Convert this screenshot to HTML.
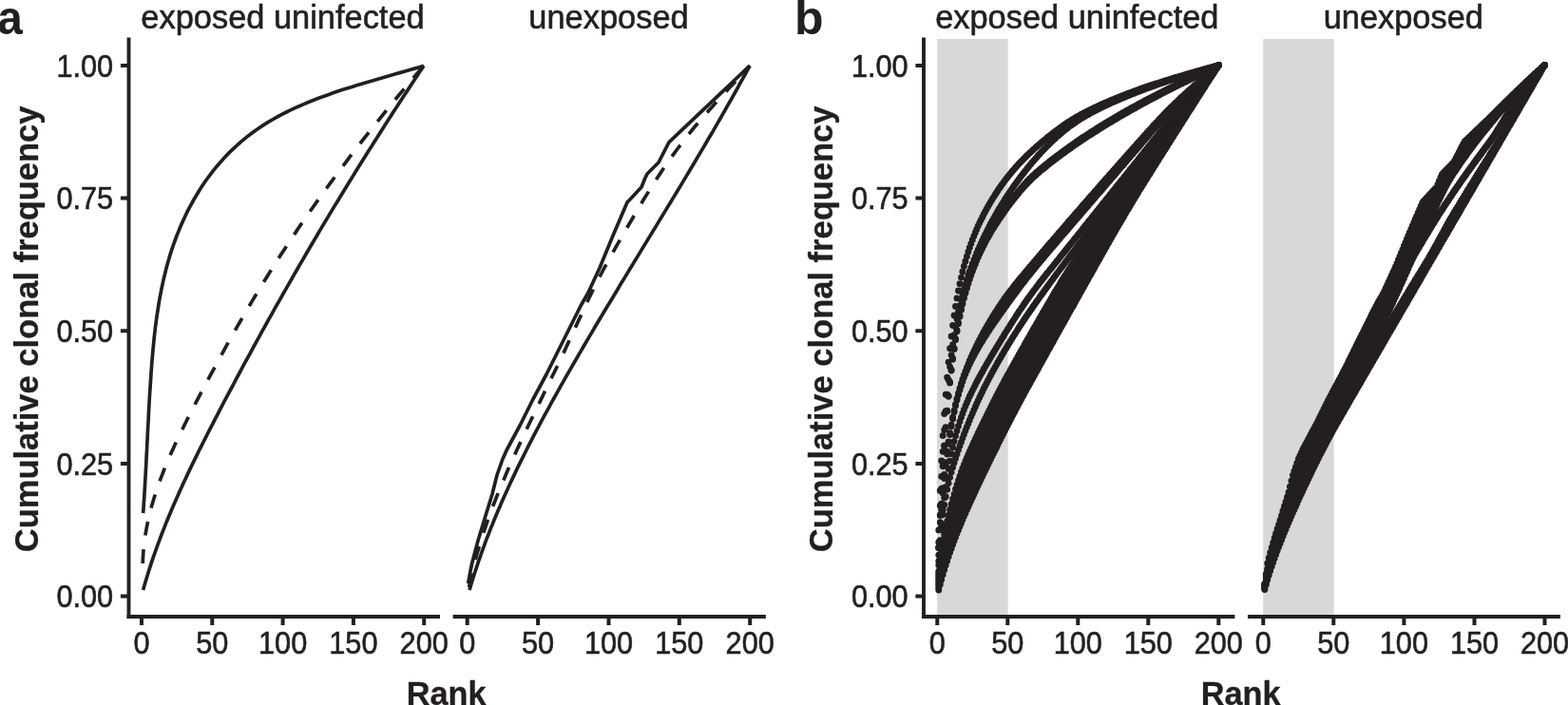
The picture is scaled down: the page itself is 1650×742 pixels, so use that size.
<!DOCTYPE html>
<html lang="en">
<head>
<meta charset="utf-8">
<title>Cumulative clonal frequency by rank</title>
<style>
html,body{margin:0;padding:0;background:#fff;}
body{width:1650px;height:742px;overflow:hidden;font-family:"Liberation Sans",sans-serif;}
svg{display:block;}
text{font-family:"Liberation Sans",sans-serif;fill:#231f20;}
.t{font-size:32.7px;stroke:#231f20;stroke-width:0.6px;}
.s{font-size:34.4px;stroke:#231f20;stroke-width:0.6px;}
.yl{font-size:35px;font-weight:bold;stroke:#231f20;stroke-width:0.3px;}
.xl{font-size:35px;font-weight:bold;stroke:#231f20;stroke-width:0.3px;}
.pl{font-size:50px;font-weight:bold;}
</style>
</head>
<body>
<svg width="1650" height="742" viewBox="0 0 1650 742">
<rect width="1650" height="742" fill="#fff"/>
<g id="panel-a">
<path d="M135.5 39.6V651" stroke="#231f20" stroke-width="3.9" fill="none"/>
<path d="M133.55 649H463.0M476.6 649H805.8" stroke="#231f20" stroke-width="4" fill="none"/>
<path d="M126.9 627.6H135.5M126.9 487.9H135.5M126.9 348.2H135.5M126.9 208.6H135.5M126.9 68.9H135.5M149 649V658M223.3 649V658M297.6 649V658M371.9 649V658M446.2 649V658M491.7 649V658M566.1 649V658M640.5 649V658M714.8 649V658M789.2 649V658" stroke="#231f20" stroke-width="4" fill="none"/>
<text transform="translate(119.2 639.4) scale(0.94 1)" text-anchor="end" class="t">0.00</text>
<text transform="translate(119.2 499.7) scale(0.94 1)" text-anchor="end" class="t">0.25</text>
<text transform="translate(119.2 360.1) scale(0.94 1)" text-anchor="end" class="t">0.50</text>
<text transform="translate(119.2 220.4) scale(0.94 1)" text-anchor="end" class="t">0.75</text>
<text transform="translate(119.2 80.7) scale(0.94 1)" text-anchor="end" class="t">1.00</text>
<text transform="translate(149 688.0) scale(0.94 1)" text-anchor="middle" class="t">0</text>
<text transform="translate(223.3 688.0) scale(0.94 1)" text-anchor="middle" class="t">50</text>
<text transform="translate(297.6 688.0) scale(0.94 1)" text-anchor="middle" class="t">100</text>
<text transform="translate(371.9 688.0) scale(0.94 1)" text-anchor="middle" class="t">150</text>
<text transform="translate(446.2 688.0) scale(0.94 1)" text-anchor="middle" class="t">200</text>
<text transform="translate(491.7 688.0) scale(0.94 1)" text-anchor="middle" class="t">0</text>
<text transform="translate(566.1 688.0) scale(0.94 1)" text-anchor="middle" class="t">50</text>
<text transform="translate(640.5 688.0) scale(0.94 1)" text-anchor="middle" class="t">100</text>
<text transform="translate(714.8 688.0) scale(0.94 1)" text-anchor="middle" class="t">150</text>
<text transform="translate(789.2 688.0) scale(0.94 1)" text-anchor="middle" class="t">200</text>
<text transform="translate(297.5 30) scale(1 1)" text-anchor="middle" class="s">exposed uninfected</text>
<text transform="translate(640.5 30) scale(1 1)" text-anchor="middle" class="s">unexposed</text>
<text transform="translate(39.9 346.4) rotate(-90) scale(0.986 1)" text-anchor="middle" class="yl">Cumulative clonal frequency</text>
<text transform="translate(469.7 741.5) scale(0.98 1)" text-anchor="middle" class="xl">Rank</text>
<text transform="translate(-2.8 35.6) scale(0.956 1)" class="pl">a</text>
<path d="M150.6 540 151 534.9 151.3 529.8 151.7 524.6 152 519.5 152.3 514.3 152.6 509.1 152.9 503.9 153.2 498.7 153.5 493.5 153.8 488.3 154 483 154.3 477.7 154.6 472.5 154.8 467.2 155.1 461.9 155.3 456.6 155.6 451.3 155.9 446 156.2 440.7 156.4 435.4 156.7 430 157 424.7 157.3 419.4 157.6 414 158 408.7 158.3 403.4 158.7 398.1 159 392.7 159.4 387.4 159.8 382.1 160.2 376.8 160.7 371.5 161.2 366.2 161.7 360.9 162.2 355.6 162.8 350.4 163.4 345.1 164.1 339.8 164.8 334.6 165.6 329.4 166.4 324.1 167.2 318.9 168.1 313.8 169.1 308.6 170.1 303.4 171.2 298.3 172.3 293.2 173.6 288.1 174.8 283 176.2 277.9 177.6 272.9 179.1 267.9 180.7 262.9 182.4 257.9 184.2 253 186 248 188 243.1 190 238.3 192.1 233.5 194.3 228.7 196.6 223.9 199 219.2 201.5 214.6 204 210 206.7 205.5 209.4 201 212.2 196.6 215.1 192.2 218.1 188 221.2 183.8 224.4 179.7 227.6 175.7 231 171.7 234.4 167.9 237.9 164.1 241.5 160.4 245.2 156.8 249 153.3 252.8 149.9 256.7 146.6 260.7 143.4 264.8 140.2 269 137.2 273.3 134.3 277.6 131.4 282 128.7 286.5 126 291.1 123.4 295.7 120.9 300.4 118.5 305.1 116.2 309.9 113.9 314.8 111.7 319.7 109.6 324.6 107.5 329.6 105.5 334.6 103.6 339.6 101.7 344.7 99.9 349.8 98.1 354.9 96.3 360 94.6 365.1 93 370.3 91.4 375.4 89.8 380.6 88.2 385.7 86.7 390.9 85.2 396 83.7 401.1 82.2 406.2 80.7 411.3 79.3 416.4 77.8 421.4 76.4 426.4 75 431.4 73.5 436.3 72.1 441.2 70.7 446 69.2" stroke="#231f20" stroke-width="3.7" fill="none" stroke-linejoin="round"/>
<path d="M150.6 621 152 616 153.5 611 155 606 156.5 601 158.1 596.1 159.7 591.1 161.4 586.1 163.2 581.2 164.9 576.3 166.7 571.3 168.6 566.4 170.4 561.5 172.4 556.6 174.3 551.7 176.3 546.8 178.3 542 180.4 537.1 182.4 532.2 184.5 527.4 186.7 522.5 188.8 517.7 191 512.9 193.2 508.1 195.5 503.2 197.7 498.4 200 493.6 202.3 488.9 204.6 484.1 207 479.3 209.3 474.5 211.7 469.8 214.1 465 216.5 460.3 218.9 455.5 221.3 450.8 223.8 446.1 226.2 441.3 228.7 436.6 231.1 431.9 233.6 427.2 236 422.5 238.5 417.8 241 413.1 243.5 408.5 246 403.8 248.4 399.1 250.9 394.5 253.4 389.8 255.9 385.2 258.4 380.5 261 375.9 263.5 371.3 266 366.6 268.5 362 271.1 357.4 273.6 352.8 276.1 348.2 278.7 343.6 281.2 339 283.8 334.4 286.4 329.8 288.9 325.2 291.5 320.6 294.1 316.1 296.7 311.5 299.3 306.9 301.9 302.4 304.5 297.8 307.1 293.3 309.7 288.7 312.3 284.2 314.9 279.6 317.6 275.1 320.2 270.6 322.8 266 325.5 261.5 328.1 257 330.8 252.5 333.5 248 336.1 243.4 338.8 238.9 341.5 234.4 344.2 229.9 346.9 225.4 349.6 220.9 352.3 216.4 355.1 211.9 357.8 207.5 360.5 203 363.3 198.5 366 194 368.8 189.5 371.5 185.1 374.3 180.6 377.1 176.1 379.9 171.6 382.6 167.2 385.4 162.7 388.2 158.2 391.1 153.8 393.9 149.3 396.7 144.9 399.5 140.4 402.4 135.9 405.2 131.5 408.1 127 411 122.6 413.8 118.1 416.7 113.7 419.6 109.2 422.5 104.8 425.4 100.3 428.3 95.9 431.3 91.4 434.2 87 437.1 82.5 440.1 78.1 443 73.6 446 69.2" stroke="#231f20" stroke-width="3.7" fill="none" stroke-linejoin="round"/>
<path d="M150.2 593 150.4 587.9 150.7 582.8 151.1 577.8 151.6 572.8 152.3 567.7 153 562.7 153.9 557.7 154.8 552.8 155.9 547.8 157 542.9 158.2 538 159.5 533 160.9 528.2 162.4 523.3 163.9 518.4 165.6 513.6 167.3 508.7 169 503.9 170.9 499.1 172.7 494.3 174.7 489.5 176.7 484.8 178.7 480 180.8 475.3 183 470.6 185.1 465.8 187.4 461.1 189.6 456.5 191.9 451.8 194.2 447.1 196.5 442.5 198.9 437.8 201.2 433.2 203.6 428.6 206 424 208.4 419.4 210.8 414.8 213.2 410.2 215.6 405.7 218.1 401.1 220.5 396.6 222.9 392.1 225.4 387.6 227.8 383 230.2 378.5 232.7 374.1 235.2 369.6 237.6 365.1 240.1 360.7 242.6 356.2 245.1 351.8 247.6 347.3 250.1 342.9 252.7 338.5 255.2 334.1 257.7 329.7 260.3 325.4 262.9 321 265.5 316.6 268.1 312.3 270.7 307.9 273.3 303.6 275.9 299.3 278.6 295 281.3 290.7 283.9 286.4 286.6 282.1 289.4 277.8 292.1 273.5 294.8 269.3 297.6 265 300.4 260.8 303.1 256.5 305.9 252.3 308.8 248.1 311.6 243.9 314.4 239.6 317.3 235.4 320.2 231.3 323.1 227.1 326 222.9 328.9 218.7 331.8 214.6 334.8 210.4 337.7 206.3 340.7 202.1 343.7 198 346.7 193.9 349.7 189.8 352.7 185.7 355.8 181.6 358.8 177.5 361.9 173.4 365 169.3 368 165.2 371.1 161.1 374.3 157.1 377.4 153 380.5 149 383.7 144.9 386.9 140.9 390.1 136.9 393.2 132.8 396.5 128.8 399.7 124.8 402.9 120.8 406.1 116.8 409.4 112.8 412.7 108.8 416 104.8 419.2 100.8 422.5 96.9 425.9 92.9 429.2 88.9 432.5 85 435.9 81 439.2 77.1 442.6 73.1 446 69.2" stroke="#231f20" stroke-width="3.7" fill="none" stroke-dasharray="14.8 14.8"/>
<path d="M492.6 614 495.2 600 496.9 592 503.3 568 510 546 518 520 523 500 528.6 484 533 474 547 448 561 420 575 394 589 366 604 336 611 322 619 308 631 282 645 248 660 213 675 197 678.6 188 681 183 693 171 704 149.6 789 69.2" stroke="#231f20" stroke-width="3.7" fill="none" stroke-linejoin="round"/>
<path d="M494 621 495.5 616 497 610.9 498.6 605.9 500.2 600.9 501.9 595.9 503.5 590.9 505.3 586 507 581 508.8 576.1 510.6 571.1 512.5 566.2 514.4 561.3 516.3 556.4 518.3 551.6 520.2 546.7 522.3 541.8 524.3 537 526.4 532.2 528.5 527.3 530.6 522.5 532.8 517.7 535 512.9 537.2 508.1 539.4 503.4 541.7 498.6 543.9 493.9 546.2 489.1 548.6 484.4 550.9 479.7 553.3 475 555.7 470.2 558.1 465.5 560.5 460.9 562.9 456.2 565.4 451.5 567.8 446.8 570.3 442.2 572.8 437.5 575.4 432.9 577.9 428.3 580.4 423.6 583 419 585.6 414.4 588.1 409.8 590.7 405.2 593.3 400.6 595.9 396 598.6 391.4 601.2 386.8 603.8 382.3 606.5 377.7 609.1 373.1 611.8 368.6 614.4 364 617.1 359.5 619.8 354.9 622.5 350.4 625.1 345.8 627.8 341.3 630.5 336.8 633.2 332.3 635.9 327.7 638.6 323.2 641.4 318.7 644.1 314.2 646.8 309.7 649.5 305.2 652.2 300.6 655 296.1 657.7 291.6 660.4 287.1 663.2 282.6 665.9 278.1 668.7 273.6 671.4 269.1 674.1 264.6 676.9 260.1 679.6 255.6 682.4 251.1 685.1 246.6 687.9 242.1 690.6 237.6 693.3 233.1 696.1 228.6 698.8 224.1 701.5 219.6 704.3 215.1 707 210.6 709.7 206.1 712.5 201.6 715.2 197.1 717.9 192.6 720.6 188.1 723.3 183.6 726 179 728.7 174.5 731.4 170 734.1 165.4 736.8 160.9 739.5 156.4 742.2 151.8 744.8 147.3 747.5 142.7 750.2 138.2 752.8 133.6 755.4 129.1 758.1 124.5 760.7 119.9 763.3 115.3 765.9 110.7 768.5 106.2 771.1 101.6 773.7 97 776.3 92.3 778.8 87.7 781.4 83.1 783.9 78.5 786.5 73.8 789 69.2" stroke="#231f20" stroke-width="3.7" fill="none" stroke-linejoin="round"/>
<path d="M493.6 618 494.6 612.9 495.7 607.8 496.8 602.8 498 597.7 499.3 592.7 500.6 587.6 502 582.6 503.5 577.6 505 572.6 506.5 567.6 508.1 562.6 509.8 557.6 511.5 552.6 513.2 547.6 515 542.6 516.9 537.7 518.7 532.7 520.7 527.8 522.6 522.8 524.6 517.9 526.6 513 528.7 508.1 530.8 503.2 532.9 498.2 535 493.3 537.2 488.5 539.4 483.6 541.6 478.7 543.8 473.8 546.1 468.9 548.3 464.1 550.6 459.2 552.9 454.4 555.2 449.5 557.5 444.7 559.9 439.9 562.2 435 564.6 430.2 566.9 425.4 569.2 420.6 571.6 415.7 573.9 410.9 576.3 406.1 578.6 401.3 580.9 396.5 583.3 391.8 585.6 387 587.9 382.2 590.1 377.4 592.4 372.6 594.7 367.9 596.9 363.1 599.1 358.3 601.3 353.6 603.5 348.8 605.7 344.1 607.9 339.3 610.1 334.6 612.3 329.8 614.5 325.1 616.7 320.4 618.9 315.7 621.2 311 623.5 306.3 625.8 301.6 628.2 296.9 630.5 292.2 633 287.5 635.4 282.9 638 278.2 640.5 273.6 643.1 268.9 645.7 264.3 648.3 259.7 650.9 255.1 653.6 250.5 656.2 246 658.9 241.4 661.5 236.8 664.2 232.3 666.8 227.8 669.4 223.3 672.1 218.8 674.8 214.3 677.4 209.8 680.2 205.4 682.9 200.9 685.7 196.5 688.5 192.1 691.3 187.7 694.2 183.4 697.1 179 700 174.7 703 170.3 706.1 166 709.1 161.8 712.3 157.5 715.4 153.3 718.6 149 721.9 144.8 725.2 140.6 728.6 136.5 732 132.3 735.5 128.2 739 124.1 742.6 120 746.2 116 749.8 112 753.4 107.9 757 104 760.6 100 764.3 96.1 767.9 92.1 771.5 88.3 775.1 84.4 778.6 80.6 782.1 76.7 785.6 73 789 69.2" stroke="#231f20" stroke-width="3.7" fill="none" stroke-dasharray="14.8 14.8"/>
</g>
<g id="panel-b">
<rect x="986.2" y="41" width="74.4" height="606" fill="#d7d8da"/>
<rect x="1329.2" y="41" width="74.4" height="606" fill="#d7d8da"/>
<g fill="none" stroke="#231f20" stroke-width="6.9" stroke-linecap="round">
<path id="l-U1" d="M987.8 557.9h0M989.3 516.5h0M990.7 485h0M992.2 458.5h0M993.7 435.5h0M995.2 415.2h0M996.7 397.2h0M998.1 381.1h0M999.6 366.8h0M1001.1 354h0M1002.6 342.4h0M1004.1 332h0M1005.5 322.5h0M1007 313.9h0M1008.5 306h0M1010 298.8h0M1011.5 292.1h0M1012.9 286h0M1014.4 280.2h0M1015.9 274.9h0M1017.4 269.9h0M1018.9 265.1h0M1020.3 260.7h0M1021.8 256.4h0M1023.3 252.4h0M1024.8 248.6h0M1026.3 244.9h0M1027.7 241.4h0M1029.2 238h0M1030.7 234.8h0M1032.2 231.7h0M1033.7 228.7h0M1035.1 225.7h0M1036.6 222.9h0M1038.1 220.2h0M1039.6 217.5h0M1041.1 214.9h0M1042.5 212.4h0M1044 210h0M1045.5 207.6h0M1047 205.2h0M1048.5 203h0M1049.9 200.7h0M1051.4 198.5h0M1052.9 196.4h0M1054.4 194.3h0M1055.9 192.3h0M1057.3 190.3h0M1058.8 188.3h0M1060.3 186.4h0M1061.8 184.5h0M1063.3 182.7h0M1064.7 180.9h0M1066.2 179.2h0M1067.7 177.4h0M1069.2 175.8h0M1070.7 174.1h0M1072.1 172.5h0M1073.6 170.9h0M1075.1 169.4h0M1076.6 167.9h0M1078.1 166.4h0M1079.5 164.9h0M1081 163.5h0M1082.5 162.1h0M1084 160.7h0M1085.5 159.3h0M1086.9 157.9h0M1088.4 156.6h0M1089.9 155.2h0M1091.4 153.9h0M1092.9 152.6h0M1094.3 151.4h0M1095.8 150.1h0M1097.3 148.9h0M1098.8 147.6h0M1100.3 146.4h0M1101.7 145.2h0M1103.2 144h0M1104.7 142.9h0M1106.2 141.7h0M1107.7 140.5h0M1109.1 139.4h0M1110.6 138.3h0M1112.1 137.2h0M1113.6 136.1h0M1115.1 135h0M1116.5 133.9h0M1118 132.9h0M1119.5 131.8h0M1121 130.8h0M1122.5 129.8h0M1123.9 128.8h0M1125.4 127.9h0M1126.9 126.9h0M1128.4 126h0M1129.9 125.1h0M1131.3 124.2h0M1132.8 123.3h0M1134.3 122.5h0M1135.8 121.6h0M1137.3 120.8h0M1138.7 120h0M1140.2 119.2h0M1141.7 118.4h0M1143.2 117.7h0M1144.7 116.9h0M1146.1 116.2h0M1147.6 115.4h0M1149.1 114.7h0M1150.6 114h0M1152.1 113.3h0M1153.5 112.6h0M1155 111.9h0M1156.5 111.2h0M1158 110.5h0M1159.5 109.8h0M1160.9 109.2h0M1162.4 108.5h0M1163.9 107.9h0M1165.4 107.2h0M1166.9 106.6h0M1168.3 106h0M1169.8 105.3h0M1171.3 104.7h0M1172.8 104.1h0M1174.3 103.5h0M1175.7 102.9h0M1177.2 102.3h0M1178.7 101.7h0M1180.2 101.1h0M1181.7 100.5h0M1183.1 100h0M1184.6 99.4h0M1186.1 98.8h0M1187.6 98.2h0M1189.1 97.7h0M1190.5 97.1h0M1192 96.6h0M1193.5 96h0M1195 95.5h0M1196.5 94.9h0M1197.9 94.4h0M1199.4 93.9h0M1200.9 93.3h0M1202.4 92.8h0M1203.9 92.3h0M1205.3 91.8h0M1206.8 91.3h0M1208.3 90.8h0M1209.8 90.3h0M1211.3 89.8h0M1212.7 89.3h0M1214.2 88.8h0M1215.7 88.3h0M1217.2 87.8h0M1218.7 87.4h0M1220.1 86.9h0M1221.6 86.4h0M1223.1 85.9h0M1224.6 85.5h0M1226.1 85h0M1227.5 84.5h0M1229 84.1h0M1230.5 83.6h0M1232 83.2h0M1233.5 82.7h0M1234.9 82.2h0M1236.4 81.8h0M1237.9 81.3h0M1239.4 80.9h0M1240.9 80.5h0M1242.3 80h0M1243.8 79.6h0M1245.3 79.1h0M1246.8 78.7h0M1248.3 78.3h0M1249.7 77.8h0M1251.2 77.4h0M1252.7 77h0M1254.2 76.5h0M1255.7 76.1h0M1257.1 75.7h0M1258.6 75.3h0M1260.1 74.8h0M1261.6 74.4h0M1263.1 74h0M1264.5 73.6h0M1266 73.2h0M1267.5 72.8h0M1269 72.3h0M1270.5 71.9h0M1271.9 71.5h0M1273.4 71.1h0M1274.9 70.7h0M1276.4 70.3h0M1277.9 69.9h0M1279.3 69.5h0M1280.8 69.1h0M1282.3 68.7h0"/>
<path id="l-U2" d="M987.8 570.8h0M989.3 532.3h0M990.7 501.4h0M992.2 475.2h0M993.7 452.5h0M995.2 432.7h0M996.7 415.2h0M998.1 399.8h0M999.6 386.1h0M1001.1 373.7h0M1002.6 362.8h0M1004.1 352.8h0M1005.5 344h0M1007 335.8h0M1008.5 328.5h0M1010 321.7h0M1011.5 315.5h0M1012.9 309.7h0M1014.4 304.4h0M1015.9 299.3h0M1017.4 294.5h0M1018.9 290h0M1020.3 285.7h0M1021.8 281.6h0M1023.3 277.6h0M1024.8 273.8h0M1026.3 270.1h0M1027.7 266.5h0M1029.2 263h0M1030.7 259.7h0M1032.2 256.4h0M1033.7 253.2h0M1035.1 250.1h0M1036.6 247.1h0M1038.1 244.1h0M1039.6 241.2h0M1041.1 238.3h0M1042.5 235.5h0M1044 232.8h0M1045.5 230.1h0M1047 227.5h0M1048.5 224.9h0M1049.9 222.3h0M1051.4 219.8h0M1052.9 217.4h0M1054.4 214.9h0M1055.9 212.6h0M1057.3 210.2h0M1058.8 207.9h0M1060.3 205.7h0M1061.8 203.4h0M1063.3 201.2h0M1064.7 199.1h0M1066.2 196.9h0M1067.7 194.8h0M1069.2 192.8h0M1070.7 190.7h0M1072.1 188.7h0M1073.6 186.7h0M1075.1 184.8h0M1076.6 182.9h0M1078.1 181h0M1079.5 179.1h0M1081 177.2h0M1082.5 175.4h0M1084 173.6h0M1085.5 171.8h0M1086.9 170.1h0M1088.4 168.4h0M1089.9 166.7h0M1091.4 165h0M1092.9 163.3h0M1094.3 161.7h0M1095.8 160.1h0M1097.3 158.5h0M1098.8 157h0M1100.3 155.4h0M1101.7 153.9h0M1103.2 152.4h0M1104.7 151h0M1106.2 149.6h0M1107.7 148.1h0M1109.1 146.8h0M1110.6 145.4h0M1112.1 144h0M1113.6 142.7h0M1115.1 141.4h0M1116.5 140.2h0M1118 138.9h0M1119.5 137.7h0M1121 136.5h0M1122.5 135.4h0M1123.9 134.2h0M1125.4 133.1h0M1126.9 132h0M1128.4 130.9h0M1129.9 129.9h0M1131.3 128.9h0M1132.8 127.9h0M1134.3 127h0M1135.8 126h0M1137.3 125.1h0M1138.7 124.2h0M1140.2 123.3h0M1141.7 122.4h0M1143.2 121.6h0M1144.7 120.7h0M1146.1 119.9h0M1147.6 119.1h0M1149.1 118.3h0M1150.6 117.5h0M1152.1 116.8h0M1153.5 116h0M1155 115.2h0M1156.5 114.5h0M1158 113.8h0M1159.5 113h0M1160.9 112.3h0M1162.4 111.6h0M1163.9 110.9h0M1165.4 110.2h0M1166.9 109.5h0M1168.3 108.8h0M1169.8 108.1h0M1171.3 107.5h0M1172.8 106.8h0M1174.3 106.2h0M1175.7 105.5h0M1177.2 104.9h0M1178.7 104.2h0M1180.2 103.6h0M1181.7 103h0M1183.1 102.4h0M1184.6 101.7h0M1186.1 101.1h0M1187.6 100.5h0M1189.1 99.9h0M1190.5 99.3h0M1192 98.7h0M1193.5 98.2h0M1195 97.6h0M1196.5 97h0M1197.9 96.4h0M1199.4 95.9h0M1200.9 95.3h0M1202.4 94.7h0M1203.9 94.2h0M1205.3 93.6h0M1206.8 93.1h0M1208.3 92.5h0M1209.8 92h0M1211.3 91.5h0M1212.7 90.9h0M1214.2 90.4h0M1215.7 89.9h0M1217.2 89.3h0M1218.7 88.8h0M1220.1 88.3h0M1221.6 87.8h0M1223.1 87.3h0M1224.6 86.8h0M1226.1 86.3h0M1227.5 85.8h0M1229 85.3h0M1230.5 84.8h0M1232 84.3h0M1233.5 83.8h0M1234.9 83.3h0M1236.4 82.8h0M1237.9 82.3h0M1239.4 81.8h0M1240.9 81.4h0M1242.3 80.9h0M1243.8 80.4h0M1245.3 79.9h0M1246.8 79.5h0M1248.3 79h0M1249.7 78.5h0M1251.2 78.1h0M1252.7 77.6h0M1254.2 77.1h0M1255.7 76.7h0M1257.1 76.2h0M1258.6 75.8h0M1260.1 75.3h0M1261.6 74.9h0M1263.1 74.4h0M1264.5 74h0M1266 73.5h0M1267.5 73.1h0M1269 72.6h0M1270.5 72.2h0M1271.9 71.7h0M1273.4 71.3h0M1274.9 70.9h0M1276.4 70.4h0M1277.9 70h0M1279.3 69.6h0M1280.8 69.1h0M1282.3 68.7h0"/>
<path id="l-U3a" d="M987.8 576.3h0M989.3 542.1h0M990.7 514.4h0M992.2 490.3h0M993.7 468.9h0M995.2 449.6h0M996.7 432.3h0M998.1 416.6h0M999.6 402.3h0M1001.1 389.2h0M1002.6 377.4h0M1004.1 366.6h0M1005.5 356.8h0M1007 347.8h0M1008.5 339.6h0M1010 332.1h0M1011.5 325.2h0M1012.9 318.8h0M1014.4 312.9h0M1015.9 307.3h0M1017.4 302.2h0M1018.9 297.3h0M1020.3 292.7h0M1021.8 288.3h0M1023.3 284.2h0M1024.8 280.2h0M1026.3 276.5h0M1027.7 272.8h0M1029.2 269.4h0M1030.7 266.1h0M1032.2 262.9h0M1033.7 259.8h0M1035.1 256.8h0M1036.6 253.9h0M1038.1 251.1h0M1039.6 248.4h0M1041.1 245.8h0M1042.5 243.2h0M1044 240.7h0M1045.5 238.2h0M1047 235.8h0M1048.5 233.5h0M1049.9 231.2h0M1051.4 228.9h0M1052.9 226.7h0M1054.4 224.6h0M1055.9 222.4h0M1057.3 220.3h0M1058.8 218.3h0M1060.3 216.2h0M1061.8 214.2h0M1063.3 212.2h0M1064.7 210.3h0M1066.2 208.4h0M1067.7 206.5h0M1069.2 204.6h0M1070.7 202.7h0M1072.1 200.9h0M1073.6 199.1h0M1075.1 197.4h0M1076.6 195.7h0M1078.1 194h0M1079.5 192.4h0M1081 190.8h0M1082.5 189.3h0M1084 187.8h0M1085.5 186.4h0M1086.9 185h0M1088.4 183.6h0M1089.9 182.3h0M1091.4 181h0M1092.9 179.7h0M1094.3 178.4h0M1095.8 177.2h0M1097.3 176h0M1098.8 174.8h0M1100.3 173.5h0M1101.7 172.4h0M1103.2 171.2h0M1104.7 170h0M1106.2 168.8h0M1107.7 167.7h0M1109.1 166.5h0M1110.6 165.4h0M1112.1 164.3h0M1113.6 163.2h0M1115.1 162.1h0M1116.5 161h0M1118 159.9h0M1119.5 158.8h0M1121 157.7h0M1122.5 156.6h0M1123.9 155.6h0M1125.4 154.5h0M1126.9 153.5h0M1128.4 152.4h0M1129.9 151.4h0M1131.3 150.4h0M1132.8 149.3h0M1134.3 148.3h0M1135.8 147.3h0M1137.3 146.3h0M1138.7 145.3h0M1140.2 144.3h0M1141.7 143.4h0M1143.2 142.4h0M1144.7 141.4h0M1146.1 140.4h0M1147.6 139.5h0M1149.1 138.5h0M1150.6 137.6h0M1152.1 136.6h0M1153.5 135.7h0M1155 134.8h0M1156.5 133.8h0M1158 132.9h0M1159.5 132h0M1160.9 131.1h0M1162.4 130.2h0M1163.9 129.3h0M1165.4 128.4h0M1166.9 127.5h0M1168.3 126.6h0M1169.8 125.7h0M1171.3 124.9h0M1172.8 124h0M1174.3 123.1h0M1175.7 122.3h0M1177.2 121.4h0M1178.7 120.5h0M1180.2 119.7h0M1181.7 118.8h0M1183.1 118h0M1184.6 117.2h0M1186.1 116.3h0M1187.6 115.5h0M1189.1 114.7h0M1190.5 113.8h0M1192 113h0M1193.5 112.2h0M1195 111.4h0M1196.5 110.6h0M1197.9 109.8h0M1199.4 109h0M1200.9 108.2h0M1202.4 107.4h0M1203.9 106.6h0M1205.3 105.8h0M1206.8 105h0M1208.3 104.3h0M1209.8 103.5h0M1211.3 102.7h0M1212.7 101.9h0M1214.2 101.2h0M1215.7 100.4h0M1217.2 99.7h0M1218.7 98.9h0M1220.1 98.2h0M1221.6 97.4h0M1223.1 96.7h0M1224.6 95.9h0M1226.1 95.2h0M1227.5 94.4h0M1229 93.7h0M1230.5 93h0M1232 92.2h0M1233.5 91.5h0M1234.9 90.8h0M1236.4 90.1h0M1237.9 89.3h0M1239.4 88.6h0M1240.9 87.9h0M1242.3 87.2h0M1243.8 86.5h0M1245.3 85.8h0M1246.8 85.1h0M1248.3 84.4h0M1249.7 83.7h0M1251.2 83h0M1252.7 82.3h0M1254.2 81.6h0M1255.7 80.9h0M1257.1 80.2h0M1258.6 79.5h0M1260.1 78.8h0M1261.6 78.1h0M1263.1 77.4h0M1264.5 76.8h0M1266 76.1h0M1267.5 75.4h0M1269 74.7h0M1270.5 74h0M1271.9 73.4h0M1273.4 72.7h0M1274.9 72h0M1276.4 71.4h0M1277.9 70.7h0M1279.3 70h0M1280.8 69.4h0M1282.3 68.7h0"/>
<path id="l-A1" d="M987.8 576.8h0M989.3 549.8h0M990.7 530.2h0M992.2 513.8h0M993.7 499.5h0M995.2 486.8h0M996.7 475.3h0M998.1 465h0M999.6 455.6h0M1001.1 447.1h0M1002.6 439.3h0M1004.1 432.2h0M1005.5 425.7h0M1007 419.6h0M1008.5 414h0M1010 408.8h0M1011.5 403.9h0M1012.9 399.3h0M1014.4 395h0M1015.9 390.9h0M1017.4 387h0M1018.9 383.3h0M1020.3 379.7h0M1021.8 376.2h0M1023.3 372.9h0M1024.8 369.7h0M1026.3 366.6h0M1027.7 363.6h0M1029.2 360.6h0M1030.7 357.7h0M1032.2 354.9h0M1033.7 352.2h0M1035.1 349.5h0M1036.6 346.8h0M1038.1 344.2h0M1039.6 341.6h0M1041.1 339.1h0M1042.5 336.6h0M1044 334.2h0M1045.5 331.8h0M1047 329.5h0M1048.5 327.1h0M1049.9 324.9h0M1051.4 322.6h0M1052.9 320.4h0M1054.4 318.3h0M1055.9 316.1h0M1057.3 314h0M1058.8 312h0M1060.3 310h0M1061.8 308h0M1063.3 306h0M1064.7 304.1h0M1066.2 302.2h0M1067.7 300.3h0M1069.2 298.4h0M1070.7 296.6h0M1072.1 294.8h0M1073.6 293h0M1075.1 291.2h0M1076.6 289.5h0M1078.1 287.7h0M1079.5 285.9h0M1081 284.2h0M1082.5 282.4h0M1084 280.7h0M1085.5 278.9h0M1086.9 277.1h0M1088.4 275.4h0M1089.9 273.7h0M1091.4 271.9h0M1092.9 270.2h0M1094.3 268.4h0M1095.8 266.7h0M1097.3 265h0M1098.8 263.2h0M1100.3 261.5h0M1101.7 259.8h0M1103.2 258h0M1104.7 256.3h0M1106.2 254.6h0M1107.7 252.9h0M1109.1 251.2h0M1110.6 249.4h0M1112.1 247.7h0M1113.6 246h0M1115.1 244.3h0M1116.5 242.6h0M1118 240.9h0M1119.5 239.1h0M1121 237.4h0M1122.5 235.7h0M1123.9 234h0M1125.4 232.3h0M1126.9 230.6h0M1128.4 228.9h0M1129.9 227.2h0M1131.3 225.5h0M1132.8 223.8h0M1134.3 222.1h0M1135.8 220.4h0M1137.3 218.7h0M1138.7 217h0M1140.2 215.3h0M1141.7 213.6h0M1143.2 211.9h0M1144.7 210.2h0M1146.1 208.5h0M1147.6 206.8h0M1149.1 205.1h0M1150.6 203.5h0M1152.1 201.8h0M1153.5 200.1h0M1155 198.4h0M1156.5 196.7h0M1158 195h0M1159.5 193.3h0M1160.9 191.7h0M1162.4 190h0M1163.9 188.3h0M1165.4 186.6h0M1166.9 184.9h0M1168.3 183.3h0M1169.8 181.6h0M1171.3 179.9h0M1172.8 178.2h0M1174.3 176.6h0M1175.7 174.9h0M1177.2 173.2h0M1178.7 171.5h0M1180.2 169.9h0M1181.7 168.2h0M1183.1 166.5h0M1184.6 164.9h0M1186.1 163.2h0M1187.6 161.5h0M1189.1 159.9h0M1190.5 158.2h0M1192 156.5h0M1193.5 154.9h0M1195 153.2h0M1196.5 151.5h0M1197.9 149.9h0M1199.4 148.2h0M1200.9 146.6h0M1202.4 144.9h0M1203.9 143.3h0M1205.3 141.6h0M1206.8 140h0M1208.3 138.3h0M1209.8 136.7h0M1211.3 135.1h0M1212.7 133.4h0M1214.2 131.8h0M1215.7 130.2h0M1217.2 128.6h0M1218.7 127.1h0M1220.1 125.5h0M1221.6 123.9h0M1223.1 122.4h0M1224.6 120.8h0M1226.1 119.3h0M1227.5 117.8h0M1229 116.3h0M1230.5 114.8h0M1232 113.3h0M1233.5 111.9h0M1234.9 110.4h0M1236.4 109h0M1237.9 107.6h0M1239.4 106.1h0M1240.9 104.7h0M1242.3 103.3h0M1243.8 102h0M1245.3 100.6h0M1246.8 99.2h0M1248.3 97.9h0M1249.7 96.5h0M1251.2 95.2h0M1252.7 93.9h0M1254.2 92.6h0M1255.7 91.3h0M1257.1 90h0M1258.6 88.7h0M1260.1 87.4h0M1261.6 86.1h0M1263.1 84.9h0M1264.5 83.6h0M1266 82.3h0M1267.5 81.1h0M1269 79.8h0M1270.5 78.6h0M1271.9 77.3h0M1273.4 76.1h0M1274.9 74.9h0M1276.4 73.6h0M1277.9 72.4h0M1279.3 71.2h0M1280.8 69.9h0M1282.3 68.7h0"/>
<path id="l-A2" d="M987.8 584.3h0M989.3 557.5h0M990.7 536.7h0M992.2 519.1h0M993.7 503.6h0M995.2 490h0M996.7 478h0M998.1 467.2h0M999.6 457.5h0M1001.1 448.8h0M1002.6 440.9h0M1004.1 433.7h0M1005.5 427.1h0M1007 421.1h0M1008.5 415.6h0M1010 410.5h0M1011.5 405.8h0M1012.9 401.4h0M1014.4 397.3h0M1015.9 393.5h0M1017.4 389.9h0M1018.9 386.5h0M1020.3 383.3h0M1021.8 380.2h0M1023.3 377.3h0M1024.8 374.4h0M1026.3 371.6h0M1027.7 369h0M1029.2 366.4h0M1030.7 363.8h0M1032.2 361.3h0M1033.7 358.9h0M1035.1 356.5h0M1036.6 354.2h0M1038.1 351.9h0M1039.6 349.6h0M1041.1 347.4h0M1042.5 345.1h0M1044 342.9h0M1045.5 340.8h0M1047 338.6h0M1048.5 336.5h0M1049.9 334.4h0M1051.4 332.2h0M1052.9 330.2h0M1054.4 328.1h0M1055.9 326h0M1057.3 323.9h0M1058.8 321.9h0M1060.3 319.8h0M1061.8 317.8h0M1063.3 315.8h0M1064.7 313.7h0M1066.2 311.7h0M1067.7 309.7h0M1069.2 307.7h0M1070.7 305.7h0M1072.1 303.7h0M1073.6 301.7h0M1075.1 299.8h0M1076.6 297.8h0M1078.1 295.9h0M1079.5 294h0M1081 292.1h0M1082.5 290.3h0M1084 288.4h0M1085.5 286.6h0M1086.9 284.7h0M1088.4 282.9h0M1089.9 281.1h0M1091.4 279.3h0M1092.9 277.5h0M1094.3 275.7h0M1095.8 273.9h0M1097.3 272.2h0M1098.8 270.4h0M1100.3 268.6h0M1101.7 266.9h0M1103.2 265.1h0M1104.7 263.4h0M1106.2 261.6h0M1107.7 259.9h0M1109.1 258.2h0M1110.6 256.4h0M1112.1 254.7h0M1113.6 253h0M1115.1 251.3h0M1116.5 249.5h0M1118 247.8h0M1119.5 246.1h0M1121 244.4h0M1122.5 242.7h0M1123.9 240.9h0M1125.4 239.2h0M1126.9 237.5h0M1128.4 235.8h0M1129.9 234.1h0M1131.3 232.3h0M1132.8 230.6h0M1134.3 228.9h0M1135.8 227.2h0M1137.3 225.5h0M1138.7 223.7h0M1140.2 222h0M1141.7 220.3h0M1143.2 218.6h0M1144.7 216.9h0M1146.1 215.1h0M1147.6 213.4h0M1149.1 211.7h0M1150.6 210h0M1152.1 208.3h0M1153.5 206.5h0M1155 204.8h0M1156.5 203.1h0M1158 201.4h0M1159.5 199.7h0M1160.9 198h0M1162.4 196.2h0M1163.9 194.5h0M1165.4 192.8h0M1166.9 191.1h0M1168.3 189.4h0M1169.8 187.6h0M1171.3 185.9h0M1172.8 184.2h0M1174.3 182.5h0M1175.7 180.8h0M1177.2 179h0M1178.7 177.3h0M1180.2 175.6h0M1181.7 173.9h0M1183.1 172.2h0M1184.6 170.5h0M1186.1 168.7h0M1187.6 167h0M1189.1 165.3h0M1190.5 163.6h0M1192 161.9h0M1193.5 160.1h0M1195 158.4h0M1196.5 156.7h0M1197.9 155h0M1199.4 153.3h0M1200.9 151.6h0M1202.4 149.8h0M1203.9 148.1h0M1205.3 146.4h0M1206.8 144.7h0M1208.3 143h0M1209.8 141.2h0M1211.3 139.5h0M1212.7 137.8h0M1214.2 136.1h0M1215.7 134.4h0M1217.2 132.7h0M1218.7 131h0M1220.1 129.4h0M1221.6 127.7h0M1223.1 126h0M1224.6 124.4h0M1226.1 122.7h0M1227.5 121.1h0M1229 119.5h0M1230.5 117.9h0M1232 116.3h0M1233.5 114.8h0M1234.9 113.2h0M1236.4 111.7h0M1237.9 110.1h0M1239.4 108.6h0M1240.9 107.1h0M1242.3 105.6h0M1243.8 104.1h0M1245.3 102.7h0M1246.8 101.2h0M1248.3 99.8h0M1249.7 98.3h0M1251.2 96.9h0M1252.7 95.5h0M1254.2 94.1h0M1255.7 92.7h0M1257.1 91.3h0M1258.6 90h0M1260.1 88.6h0M1261.6 87.2h0M1263.1 85.9h0M1264.5 84.6h0M1266 83.2h0M1267.5 81.9h0M1269 80.5h0M1270.5 79.2h0M1271.9 77.9h0M1273.4 76.6h0M1274.9 75.3h0M1276.4 73.9h0M1277.9 72.6h0M1279.3 71.3h0M1280.8 70h0M1282.3 68.7h0"/>
<path id="l-B" d="M987.8 590.8h0M989.3 568.6h0M990.7 551.4h0M992.2 536.8h0M993.7 524h0M995.2 512.6h0M996.7 502.5h0M998.1 493.4h0M999.6 485.2h0M1001.1 477.7h0M1002.6 470.9h0M1004.1 464.6h0M1005.5 458.8h0M1007 453.4h0M1008.5 448.4h0M1010 443.7h0M1011.5 439.3h0M1012.9 435.2h0M1014.4 431.3h0M1015.9 427.5h0M1017.4 424h0M1018.9 420.6h0M1020.3 417.3h0M1021.8 414.2h0M1023.3 411.1h0M1024.8 408.1h0M1026.3 405.2h0M1027.7 402.3h0M1029.2 399.5h0M1030.7 396.8h0M1032.2 394h0M1033.7 391.4h0M1035.1 388.7h0M1036.6 386.1h0M1038.1 383.5h0M1039.6 381h0M1041.1 378.4h0M1042.5 375.9h0M1044 373.4h0M1045.5 370.9h0M1047 368.5h0M1048.5 366h0M1049.9 363.6h0M1051.4 361.2h0M1052.9 358.7h0M1054.4 356.3h0M1055.9 353.9h0M1057.3 351.5h0M1058.8 349.1h0M1060.3 346.7h0M1061.8 344.4h0M1063.3 342h0M1064.7 339.7h0M1066.2 337.4h0M1067.7 335.1h0M1069.2 332.8h0M1070.7 330.5h0M1072.1 328.3h0M1073.6 326.1h0M1075.1 323.9h0M1076.6 321.7h0M1078.1 319.5h0M1079.5 317.4h0M1081 315.3h0M1082.5 313.2h0M1084 311.1h0M1085.5 309.1h0M1086.9 307.1h0M1088.4 305.1h0M1089.9 303.1h0M1091.4 301.1h0M1092.9 299.2h0M1094.3 297.3h0M1095.8 295.4h0M1097.3 293.5h0M1098.8 291.7h0M1100.3 289.8h0M1101.7 288h0M1103.2 286.1h0M1104.7 284.3h0M1106.2 282.4h0M1107.7 280.6h0M1109.1 278.7h0M1110.6 276.9h0M1112.1 275h0M1113.6 273.2h0M1115.1 271.3h0M1116.5 269.4h0M1118 267.6h0M1119.5 265.7h0M1121 263.9h0M1122.5 262h0M1123.9 260.2h0M1125.4 258.3h0M1126.9 256.5h0M1128.4 254.6h0M1129.9 252.8h0M1131.3 250.9h0M1132.8 249.1h0M1134.3 247.2h0M1135.8 245.4h0M1137.3 243.6h0M1138.7 241.7h0M1140.2 239.9h0M1141.7 238h0M1143.2 236.2h0M1144.7 234.3h0M1146.1 232.5h0M1147.6 230.6h0M1149.1 228.8h0M1150.6 226.9h0M1152.1 225.1h0M1153.5 223.2h0M1155 221.4h0M1156.5 219.5h0M1158 217.7h0M1159.5 215.8h0M1160.9 214h0M1162.4 212.1h0M1163.9 210.3h0M1165.4 208.4h0M1166.9 206.6h0M1168.3 204.7h0M1169.8 202.9h0M1171.3 201h0M1172.8 199.2h0M1174.3 197.3h0M1175.7 195.5h0M1177.2 193.6h0M1178.7 191.8h0M1180.2 189.9h0M1181.7 188.1h0M1183.1 186.2h0M1184.6 184.4h0M1186.1 182.5h0M1187.6 180.7h0M1189.1 178.8h0M1190.5 177h0M1192 175.1h0M1193.5 173.3h0M1195 171.4h0M1196.5 169.6h0M1197.9 167.7h0M1199.4 165.9h0M1200.9 164h0M1202.4 162.2h0M1203.9 160.3h0M1205.3 158.5h0M1206.8 156.6h0M1208.3 154.8h0M1209.8 153h0M1211.3 151.1h0M1212.7 149.3h0M1214.2 147.4h0M1215.7 145.6h0M1217.2 143.7h0M1218.7 141.9h0M1220.1 140h0M1221.6 138.2h0M1223.1 136.3h0M1224.6 134.5h0M1226.1 132.6h0M1227.5 130.8h0M1229 128.9h0M1230.5 127.1h0M1232 125.3h0M1233.5 123.5h0M1234.9 121.7h0M1236.4 119.9h0M1237.9 118.1h0M1239.4 116.3h0M1240.9 114.5h0M1242.3 112.8h0M1243.8 111h0M1245.3 109.3h0M1246.8 107.6h0M1248.3 105.8h0M1249.7 104.1h0M1251.2 102.5h0M1252.7 100.8h0M1254.2 99.1h0M1255.7 97.4h0M1257.1 95.8h0M1258.6 94.2h0M1260.1 92.5h0M1261.6 90.9h0M1263.1 89.3h0M1264.5 87.7h0M1266 86.1h0M1267.5 84.5h0M1269 82.9h0M1270.5 81.3h0M1271.9 79.7h0M1273.4 78.1h0M1274.9 76.6h0M1276.4 75h0M1277.9 73.4h0M1279.3 71.8h0M1280.8 70.3h0M1282.3 68.7h0"/>
<path id="l-C" d="M987.8 594.7h0M989.3 571.7h0M990.7 554.8h0M992.2 541.8h0M993.7 531.4h0M995.2 522.7h0M996.7 515.2h0M998.1 508.6h0M999.6 502.6h0M1001.1 497.1h0M1002.6 492h0M1004.1 487.1h0M1005.5 482.4h0M1007 477.9h0M1008.5 473.5h0M1010 469.3h0M1011.5 465.2h0M1012.9 461.1h0M1014.4 457.2h0M1015.9 453.3h0M1017.4 449.5h0M1018.9 445.8h0M1020.3 442.2h0M1021.8 438.6h0M1023.3 435.1h0M1024.8 431.6h0M1026.3 428.2h0M1027.7 424.9h0M1029.2 421.7h0M1030.7 418.5h0M1032.2 415.4h0M1033.7 412.3h0M1035.1 409.3h0M1036.6 406.3h0M1038.1 403.4h0M1039.6 400.5h0M1041.1 397.7h0M1042.5 394.9h0M1044 392.2h0M1045.5 389.4h0M1047 386.8h0M1048.5 384.1h0M1049.9 381.5h0M1051.4 378.9h0M1052.9 376.4h0M1054.4 373.8h0M1055.9 371.3h0M1057.3 368.8h0M1058.8 366.4h0M1060.3 363.9h0M1061.8 361.5h0M1063.3 359.1h0M1064.7 356.7h0M1066.2 354.3h0M1067.7 352h0M1069.2 349.6h0M1070.7 347.3h0M1072.1 345h0M1073.6 342.7h0M1075.1 340.5h0M1076.6 338.2h0M1078.1 336h0M1079.5 333.8h0M1081 331.6h0M1082.5 329.5h0M1084 327.3h0M1085.5 325.2h0M1086.9 323h0M1088.4 320.9h0M1089.9 318.8h0M1091.4 316.7h0M1092.9 314.6h0M1094.3 312.5h0M1095.8 310.4h0M1097.3 308.4h0M1098.8 306.3h0M1100.3 304.3h0M1101.7 302.2h0M1103.2 300.2h0M1104.7 298.1h0M1106.2 296.1h0M1107.7 294.1h0M1109.1 292.1h0M1110.6 290.1h0M1112.1 288.1h0M1113.6 286.1h0M1115.1 284.1h0M1116.5 282.1h0M1118 280.2h0M1119.5 278.2h0M1121 276.2h0M1122.5 274.2h0M1123.9 272.2h0M1125.4 270.3h0M1126.9 268.3h0M1128.4 266.3h0M1129.9 264.4h0M1131.3 262.4h0M1132.8 260.5h0M1134.3 258.5h0M1135.8 256.5h0M1137.3 254.6h0M1138.7 252.6h0M1140.2 250.7h0M1141.7 248.7h0M1143.2 246.8h0M1144.7 244.8h0M1146.1 242.9h0M1147.6 241h0M1149.1 239h0M1150.6 237.1h0M1152.1 235.1h0M1153.5 233.2h0M1155 231.3h0M1156.5 229.3h0M1158 227.4h0M1159.5 225.4h0M1160.9 223.5h0M1162.4 221.6h0M1163.9 219.6h0M1165.4 217.7h0M1166.9 215.8h0M1168.3 213.8h0M1169.8 211.9h0M1171.3 210h0M1172.8 208.1h0M1174.3 206.1h0M1175.7 204.2h0M1177.2 202.3h0M1178.7 200.3h0M1180.2 198.4h0M1181.7 196.5h0M1183.1 194.6h0M1184.6 192.6h0M1186.1 190.7h0M1187.6 188.8h0M1189.1 186.9h0M1190.5 185h0M1192 183h0M1193.5 181.1h0M1195 179.2h0M1196.5 177.3h0M1197.9 175.4h0M1199.4 173.5h0M1200.9 171.6h0M1202.4 169.7h0M1203.9 167.8h0M1205.3 165.9h0M1206.8 164h0M1208.3 162.1h0M1209.8 160.2h0M1211.3 158.3h0M1212.7 156.5h0M1214.2 154.6h0M1215.7 152.7h0M1217.2 150.8h0M1218.7 148.9h0M1220.1 147h0M1221.6 145.2h0M1223.1 143.3h0M1224.6 141.4h0M1226.1 139.5h0M1227.5 137.6h0M1229 135.8h0M1230.5 133.9h0M1232 132h0M1233.5 130.2h0M1234.9 128.3h0M1236.4 126.4h0M1237.9 124.5h0M1239.4 122.7h0M1240.9 120.8h0M1242.3 118.9h0M1243.8 117.1h0M1245.3 115.2h0M1246.8 113.3h0M1248.3 111.5h0M1249.7 109.6h0M1251.2 107.8h0M1252.7 105.9h0M1254.2 104h0M1255.7 102.2h0M1257.1 100.3h0M1258.6 98.4h0M1260.1 96.6h0M1261.6 94.7h0M1263.1 92.9h0M1264.5 91h0M1266 89.1h0M1267.5 87.3h0M1269 85.4h0M1270.5 83.6h0M1271.9 81.7h0M1273.4 79.8h0M1274.9 78h0M1276.4 76.1h0M1277.9 74.3h0M1279.3 72.4h0M1280.8 70.6h0M1282.3 68.7h0"/>
<path id="l-D1" d="M987.8 601.2h0M989.3 587.9h0M990.7 578.3h0M992.2 570h0M993.7 562.4h0M995.2 555.3h0M996.7 548.7h0M998.1 542.4h0M999.6 536.5h0M1001.1 530.8h0M1002.6 525.3h0M1004.1 520.1h0M1005.5 515h0M1007 510.2h0M1008.5 505.6h0M1010 501.2h0M1011.5 497h0M1012.9 492.9h0M1014.4 489.2h0M1015.9 485.4h0M1017.4 481.9h0M1018.9 478.5h0M1020.3 475.2h0M1021.8 471.9h0M1023.3 468.6h0M1024.8 465.4h0M1026.3 462.2h0M1027.7 459.1h0M1029.2 455.9h0M1030.7 452.8h0M1032.2 449.8h0M1033.7 446.7h0M1035.1 443.7h0M1036.6 440.6h0M1038.1 437.6h0M1039.6 434.6h0M1041.1 431.7h0M1042.5 428.7h0M1044 425.7h0M1045.5 422.8h0M1047 419.9h0M1048.5 417h0M1049.9 414.2h0M1051.4 411.3h0M1052.9 408.5h0M1054.4 405.7h0M1055.9 403h0M1057.3 400.2h0M1058.8 397.5h0M1060.3 394.8h0M1061.8 392.1h0M1063.3 389.4h0M1064.7 386.8h0M1066.2 384.1h0M1067.7 381.4h0M1069.2 378.8h0M1070.7 376.1h0M1072.1 373.5h0M1073.6 370.8h0M1075.1 368.2h0M1076.6 365.6h0M1078.1 362.9h0M1079.5 360.3h0M1081 357.7h0M1082.5 355.1h0M1084 352.5h0M1085.5 349.9h0M1086.9 347.3h0M1088.4 344.7h0M1089.9 342.1h0M1091.4 339.6h0M1092.9 337h0M1094.3 334.4h0M1095.8 331.9h0M1097.3 329.3h0M1098.8 326.7h0M1100.3 324.2h0M1101.7 321.7h0M1103.2 319.1h0M1104.7 316.6h0M1106.2 314.1h0M1107.7 311.5h0M1109.1 309h0M1110.6 306.5h0M1112.1 304.1h0M1113.6 301.6h0M1115.1 299.2h0M1116.5 296.7h0M1118 294.3h0M1119.5 291.9h0M1121 289.6h0M1122.5 287.2h0M1123.9 284.9h0M1125.4 282.6h0M1126.9 280.3h0M1128.4 278h0M1129.9 275.8h0M1131.3 273.5h0M1132.8 271.3h0M1134.3 269h0M1135.8 266.8h0M1137.3 264.6h0M1138.7 262.4h0M1140.2 260.3h0M1141.7 258.1h0M1143.2 255.9h0M1144.7 253.8h0M1146.1 251.6h0M1147.6 249.4h0M1149.1 247.3h0M1150.6 245.1h0M1152.1 243h0M1153.5 240.9h0M1155 238.7h0M1156.5 236.6h0M1158 234.5h0M1159.5 232.4h0M1160.9 230.2h0M1162.4 228.1h0M1163.9 226h0M1165.4 223.9h0M1166.9 221.8h0M1168.3 219.7h0M1169.8 217.6h0M1171.3 215.5h0M1172.8 213.4h0M1174.3 211.4h0M1175.7 209.3h0M1177.2 207.2h0M1178.7 205.1h0M1180.2 203.1h0M1181.7 201h0M1183.1 198.9h0M1184.6 196.9h0M1186.1 194.8h0M1187.6 192.8h0M1189.1 190.7h0M1190.5 188.7h0M1192 186.7h0M1193.5 184.6h0M1195 182.6h0M1196.5 180.6h0M1197.9 178.5h0M1199.4 176.5h0M1200.9 174.5h0M1202.4 172.5h0M1203.9 170.5h0M1205.3 168.5h0M1206.8 166.5h0M1208.3 164.5h0M1209.8 162.5h0M1211.3 160.5h0M1212.7 158.5h0M1214.2 156.5h0M1215.7 154.5h0M1217.2 152.6h0M1218.7 150.6h0M1220.1 148.6h0M1221.6 146.6h0M1223.1 144.7h0M1224.6 142.7h0M1226.1 140.8h0M1227.5 138.8h0M1229 136.9h0M1230.5 134.9h0M1232 133h0M1233.5 131h0M1234.9 129.1h0M1236.4 127.1h0M1237.9 125.2h0M1239.4 123.3h0M1240.9 121.4h0M1242.3 119.4h0M1243.8 117.5h0M1245.3 115.6h0M1246.8 113.7h0M1248.3 111.8h0M1249.7 109.9h0M1251.2 108h0M1252.7 106.1h0M1254.2 104.2h0M1255.7 102.3h0M1257.1 100.4h0M1258.6 98.5h0M1260.1 96.6h0M1261.6 94.7h0M1263.1 92.9h0M1264.5 91h0M1266 89.1h0M1267.5 87.2h0M1269 85.4h0M1270.5 83.5h0M1271.9 81.6h0M1273.4 79.8h0M1274.9 77.9h0M1276.4 76.1h0M1277.9 74.2h0M1279.3 72.4h0M1280.8 70.5h0M1282.3 68.7h0"/>
<path id="l-L" d="M987.8 621h0M989.3 615.3h0M990.7 609.9h0M992.2 604.7h0M993.7 599.8h0M995.2 595h0M996.7 590.4h0M998.1 585.9h0M999.6 581.6h0M1001.1 577.4h0M1002.6 573.3h0M1004.1 569.3h0M1005.5 565.4h0M1007 561.6h0M1008.5 557.9h0M1010 554.2h0M1011.5 550.7h0M1012.9 547.1h0M1014.4 543.6h0M1015.9 540.2h0M1017.4 536.8h0M1018.9 533.5h0M1020.3 530.2h0M1021.8 526.9h0M1023.3 523.7h0M1024.8 520.5h0M1026.3 517.3h0M1027.7 514.1h0M1029.2 511h0M1030.7 507.8h0M1032.2 504.7h0M1033.7 501.6h0M1035.1 498.5h0M1036.6 495.4h0M1038.1 492.4h0M1039.6 489.3h0M1041.1 486.3h0M1042.5 483.2h0M1044 480.2h0M1045.5 477.2h0M1047 474.2h0M1048.5 471.2h0M1049.9 468.2h0M1051.4 465.2h0M1052.9 462.3h0M1054.4 459.3h0M1055.9 456.4h0M1057.3 453.5h0M1058.8 450.6h0M1060.3 447.7h0M1061.8 444.8h0M1063.3 441.9h0M1064.7 439.1h0M1066.2 436.2h0M1067.7 433.4h0M1069.2 430.6h0M1070.7 427.8h0M1072.1 425h0M1073.6 422.2h0M1075.1 419.5h0M1076.6 416.7h0M1078.1 414h0M1079.5 411.3h0M1081 408.6h0M1082.5 405.9h0M1084 403.2h0M1085.5 400.5h0M1086.9 397.9h0M1088.4 395.2h0M1089.9 392.5h0M1091.4 389.9h0M1092.9 387.2h0M1094.3 384.5h0M1095.8 381.9h0M1097.3 379.2h0M1098.8 376.5h0M1100.3 373.9h0M1101.7 371.2h0M1103.2 368.6h0M1104.7 365.9h0M1106.2 363.2h0M1107.7 360.6h0M1109.1 357.9h0M1110.6 355.3h0M1112.1 352.6h0M1113.6 350h0M1115.1 347.3h0M1116.5 344.7h0M1118 342h0M1119.5 339.4h0M1121 336.7h0M1122.5 334.1h0M1123.9 331.4h0M1125.4 328.8h0M1126.9 326.1h0M1128.4 323.5h0M1129.9 320.9h0M1131.3 318.2h0M1132.8 315.6h0M1134.3 312.9h0M1135.8 310.3h0M1137.3 307.6h0M1138.7 305h0M1140.2 302.4h0M1141.7 299.7h0M1143.2 297.1h0M1144.7 294.5h0M1146.1 291.8h0M1147.6 289.2h0M1149.1 286.5h0M1150.6 283.9h0M1152.1 281.3h0M1153.5 278.6h0M1155 276h0M1156.5 273.4h0M1158 270.8h0M1159.5 268.1h0M1160.9 265.5h0M1162.4 262.9h0M1163.9 260.3h0M1165.4 257.6h0M1166.9 255h0M1168.3 252.4h0M1169.8 249.8h0M1171.3 247.2h0M1172.8 244.7h0M1174.3 242.1h0M1175.7 239.5h0M1177.2 237h0M1178.7 234.4h0M1180.2 231.9h0M1181.7 229.4h0M1183.1 226.9h0M1184.6 224.3h0M1186.1 221.8h0M1187.6 219.4h0M1189.1 216.9h0M1190.5 214.4h0M1192 212h0M1193.5 209.5h0M1195 207.1h0M1196.5 204.7h0M1197.9 202.2h0M1199.4 199.8h0M1200.9 197.4h0M1202.4 195h0M1203.9 192.7h0M1205.3 190.3h0M1206.8 187.9h0M1208.3 185.5h0M1209.8 183.2h0M1211.3 180.8h0M1212.7 178.4h0M1214.2 176.1h0M1215.7 173.7h0M1217.2 171.3h0M1218.7 169h0M1220.1 166.6h0M1221.6 164.3h0M1223.1 161.9h0M1224.6 159.6h0M1226.1 157.2h0M1227.5 154.9h0M1229 152.5h0M1230.5 150.2h0M1232 147.8h0M1233.5 145.5h0M1234.9 143.2h0M1236.4 140.8h0M1237.9 138.5h0M1239.4 136.2h0M1240.9 133.8h0M1242.3 131.5h0M1243.8 129.2h0M1245.3 126.8h0M1246.8 124.5h0M1248.3 122.2h0M1249.7 119.8h0M1251.2 117.5h0M1252.7 115.2h0M1254.2 112.9h0M1255.7 110.5h0M1257.1 108.2h0M1258.6 105.9h0M1260.1 103.5h0M1261.6 101.2h0M1263.1 98.9h0M1264.5 96.6h0M1266 94.2h0M1267.5 91.9h0M1269 89.6h0M1270.5 87.3h0M1271.9 84.9h0M1273.4 82.6h0M1274.9 80.3h0M1276.4 78h0M1277.9 75.7h0M1279.3 73.3h0M1280.8 71h0M1282.3 68.7h0"/>
<path id="l-U3b" d="M987.8 576.5h0M989.3 542.5h0M990.7 514.9h0M992.2 490.8h0M993.7 469.5h0M995.2 450.3h0M996.7 433h0M998.1 417.3h0M999.6 403.1h0M1001.1 390.1h0M1002.6 378.3h0M1004.1 367.5h0M1005.5 357.8h0M1007 348.8h0M1008.5 340.7h0M1010 333.2h0M1011.5 326.3h0M1012.9 319.9h0M1014.4 314.1h0M1015.9 308.6h0M1017.4 303.4h0M1018.9 298.6h0M1020.3 294h0M1021.8 289.7h0M1023.3 285.5h0M1024.8 281.6h0M1026.3 277.9h0M1027.7 274.3h0M1029.2 270.8h0M1030.7 267.6h0M1032.2 264.4h0M1033.7 261.3h0M1035.1 258.4h0M1036.6 255.5h0M1038.1 252.7h0M1039.6 250h0M1041.1 247.4h0M1042.5 244.8h0M1044 242.3h0M1045.5 239.9h0M1047 237.5h0M1048.5 235.2h0M1049.9 232.9h0M1051.4 230.7h0M1052.9 228.5h0M1054.4 226.4h0M1055.9 224.2h0M1057.3 222.2h0M1058.8 220.1h0M1060.3 218.1h0M1061.8 216.1h0M1063.3 214.1h0M1064.7 212.2h0M1066.2 210.3h0M1067.7 208.4h0M1069.2 206.5h0M1070.7 204.7h0M1072.1 202.9h0M1073.6 201.1h0M1075.1 199.4h0M1076.6 197.7h0M1078.1 196h0M1079.5 194.4h0M1081 192.9h0M1082.5 191.4h0M1084 189.9h0M1085.5 188.5h0M1086.9 187h0M1088.4 185.7h0M1089.9 184.4h0M1091.4 183.1h0M1092.9 181.8h0M1094.3 180.5h0M1095.8 179.3h0M1097.3 178.1h0M1098.8 176.9h0M1100.3 175.7h0M1101.7 174.5h0M1103.2 173.3h0M1104.7 172.1h0M1106.2 171h0M1107.7 169.8h0M1109.1 168.7h0M1110.6 167.6h0M1112.1 166.5h0M1113.6 165.3h0M1115.1 164.2h0M1116.5 163.1h0M1118 162h0M1119.5 161h0M1121 159.9h0M1122.5 158.8h0M1123.9 157.8h0M1125.4 156.7h0M1126.9 155.7h0M1128.4 154.6h0M1129.9 153.6h0M1131.3 152.6h0M1132.8 151.5h0M1134.3 150.5h0M1135.8 149.5h0M1137.3 148.5h0M1138.7 147.5h0M1140.2 146.5h0M1141.7 145.6h0M1143.2 144.6h0M1144.7 143.6h0M1146.1 142.6h0M1147.6 141.7h0M1149.1 140.7h0M1150.6 139.8h0M1152.1 138.8h0M1153.5 137.9h0M1155 136.9h0M1156.5 136h0M1158 135.1h0M1159.5 134.2h0M1160.9 133.3h0M1162.4 132.3h0M1163.9 131.4h0M1165.4 130.5h0M1166.9 129.6h0M1168.3 128.8h0M1169.8 127.9h0M1171.3 127h0M1172.8 126.1h0M1174.3 125.2h0M1175.7 124.4h0M1177.2 123.5h0M1178.7 122.6h0M1180.2 121.8h0M1181.7 120.9h0M1183.1 120.1h0M1184.6 119.2h0M1186.1 118.4h0M1187.6 117.5h0M1189.1 116.7h0M1190.5 115.8h0M1192 115h0M1193.5 114.2h0M1195 113.4h0M1196.5 112.5h0M1197.9 111.7h0M1199.4 110.9h0M1200.9 110.1h0M1202.4 109.3h0M1203.9 108.5h0M1205.3 107.7h0M1206.8 106.9h0M1208.3 106.1h0M1209.8 105.3h0M1211.3 104.5h0M1212.7 103.7h0M1214.2 103h0M1215.7 102.2h0M1217.2 101.4h0M1218.7 100.6h0M1220.1 99.9h0M1221.6 99.1h0M1223.1 98.3h0M1224.6 97.6h0M1226.1 96.8h0M1227.5 96.1h0M1229 95.3h0M1230.5 94.6h0M1232 93.8h0M1233.5 93.1h0M1234.9 92.3h0M1236.4 91.6h0M1237.9 90.8h0M1239.4 90.1h0M1240.9 89.3h0M1242.3 88.6h0M1243.8 87.9h0M1245.3 87.1h0M1246.8 86.4h0M1248.3 85.7h0M1249.7 84.9h0M1251.2 84.2h0M1252.7 83.5h0M1254.2 82.8h0M1255.7 82h0M1257.1 81.3h0M1258.6 80.6h0M1260.1 79.9h0M1261.6 79.1h0M1263.1 78.4h0M1264.5 77.7h0M1266 77h0M1267.5 76.3h0M1269 75.5h0M1270.5 74.8h0M1271.9 74.1h0M1273.4 73.4h0M1274.9 72.6h0M1276.4 71.9h0M1277.9 71.2h0M1279.3 70.4h0M1280.8 69.6h0M1282.3 68.7h0"/>
<path id="l-D2" d="M987.8 603.4h0M989.3 590.9h0M990.7 581.8h0M992.2 573.8h0M993.7 566.5h0M995.2 559.7h0M996.7 553.3h0M998.1 547.3h0M999.6 541.5h0M1001.1 536h0M1002.6 530.7h0M1004.1 525.5h0M1005.5 520.6h0M1007 515.9h0M1008.5 511.4h0M1010 507.1h0M1011.5 503h0M1012.9 499h0M1014.4 495.2h0M1015.9 491.5h0M1017.4 488h0M1018.9 484.6h0M1020.3 481.3h0M1021.8 478h0M1023.3 474.7h0M1024.8 471.5h0M1026.3 468.3h0M1027.7 465.2h0M1029.2 462.1h0M1030.7 458.9h0M1032.2 455.9h0M1033.7 452.8h0M1035.1 449.8h0M1036.6 446.7h0M1038.1 443.7h0M1039.6 440.7h0M1041.1 437.7h0M1042.5 434.8h0M1044 431.8h0M1045.5 428.9h0M1047 425.9h0M1048.5 423h0M1049.9 420.2h0M1051.4 417.3h0M1052.9 414.5h0M1054.4 411.7h0M1055.9 408.9h0M1057.3 406.2h0M1058.8 403.4h0M1060.3 400.7h0M1061.8 398h0M1063.3 395.3h0M1064.7 392.6h0M1066.2 389.9h0M1067.7 387.2h0M1069.2 384.5h0M1070.7 381.8h0M1072.1 379.2h0M1073.6 376.5h0M1075.1 373.9h0M1076.6 371.2h0M1078.1 368.6h0M1079.5 366h0M1081 363.4h0M1082.5 360.7h0M1084 358.1h0M1085.5 355.5h0M1086.9 352.9h0M1088.4 350.3h0M1089.9 347.7h0M1091.4 345.1h0M1092.9 342.6h0M1094.3 340h0M1095.8 337.4h0M1097.3 334.8h0M1098.8 332.3h0M1100.3 329.7h0M1101.7 327.2h0M1103.2 324.6h0M1104.7 322.1h0M1106.2 319.5h0M1107.7 317h0M1109.1 314.5h0M1110.6 312h0M1112.1 309.5h0M1113.6 307h0M1115.1 304.5h0M1116.5 302.1h0M1118 299.6h0M1119.5 297.2h0M1121 294.8h0M1122.5 292.4h0M1123.9 290.1h0M1125.4 287.7h0M1126.9 285.4h0M1128.4 283.1h0M1129.9 280.8h0M1131.3 278.5h0M1132.8 276.2h0M1134.3 273.9h0M1135.8 271.7h0M1137.3 269.4h0M1138.7 267.2h0M1140.2 264.9h0M1141.7 262.7h0M1143.2 260.5h0M1144.7 258.3h0M1146.1 256.1h0M1147.6 253.9h0M1149.1 251.7h0M1150.6 249.5h0M1152.1 247.3h0M1153.5 245.1h0M1155 242.9h0M1156.5 240.7h0M1158 238.5h0M1159.5 236.3h0M1160.9 234.2h0M1162.4 232h0M1163.9 229.8h0M1165.4 227.7h0M1166.9 225.5h0M1168.3 223.4h0M1169.8 221.2h0M1171.3 219.1h0M1172.8 216.9h0M1174.3 214.8h0M1175.7 212.6h0M1177.2 210.5h0M1178.7 208.4h0M1180.2 206.3h0M1181.7 204.2h0M1183.1 202h0M1184.6 199.9h0M1186.1 197.8h0M1187.6 195.7h0M1189.1 193.6h0M1190.5 191.6h0M1192 189.5h0M1193.5 187.4h0M1195 185.3h0M1196.5 183.2h0M1197.9 181.2h0M1199.4 179.1h0M1200.9 177.1h0M1202.4 175h0M1203.9 173h0M1205.3 170.9h0M1206.8 168.9h0M1208.3 166.8h0M1209.8 164.8h0M1211.3 162.7h0M1212.7 160.7h0M1214.2 158.7h0M1215.7 156.7h0M1217.2 154.6h0M1218.7 152.6h0M1220.1 150.6h0M1221.6 148.6h0M1223.1 146.6h0M1224.6 144.6h0M1226.1 142.6h0M1227.5 140.6h0M1229 138.6h0M1230.5 136.6h0M1232 134.6h0M1233.5 132.6h0M1234.9 130.6h0M1236.4 128.7h0M1237.9 126.7h0M1239.4 124.7h0M1240.9 122.7h0M1242.3 120.8h0M1243.8 118.8h0M1245.3 116.8h0M1246.8 114.9h0M1248.3 112.9h0M1249.7 111h0M1251.2 109h0M1252.7 107.1h0M1254.2 105.1h0M1255.7 103.2h0M1257.1 101.3h0M1258.6 99.3h0M1260.1 97.4h0M1261.6 95.5h0M1263.1 93.5h0M1264.5 91.6h0M1266 89.7h0M1267.5 87.8h0M1269 85.8h0M1270.5 83.9h0M1271.9 82h0M1273.4 80.1h0M1274.9 78.2h0M1276.4 76.3h0M1277.9 74.4h0M1279.3 72.5h0M1280.8 70.6h0M1282.3 68.7h0"/>
<path id="l-D3" d="M987.8 605.6h0M989.3 594h0M990.7 585.3h0M992.2 577.7h0M993.7 570.7h0M995.2 564.1h0M996.7 558h0M998.1 552.1h0M999.6 546.5h0M1001.1 541.2h0M1002.6 536h0M1004.1 531h0M1005.5 526.2h0M1007 521.6h0M1008.5 517.2h0M1010 513h0M1011.5 508.9h0M1012.9 505h0M1014.4 501.3h0M1015.9 497.6h0M1017.4 494.1h0M1018.9 490.7h0M1020.3 487.4h0M1021.8 484.1h0M1023.3 480.9h0M1024.8 477.6h0M1026.3 474.5h0M1027.7 471.3h0M1029.2 468.2h0M1030.7 465.1h0M1032.2 462h0M1033.7 458.9h0M1035.1 455.8h0M1036.6 452.8h0M1038.1 449.8h0M1039.6 446.8h0M1041.1 443.8h0M1042.5 440.8h0M1044 437.8h0M1045.5 434.9h0M1047 432h0M1048.5 429h0M1049.9 426.2h0M1051.4 423.3h0M1052.9 420.5h0M1054.4 417.6h0M1055.9 414.8h0M1057.3 412.1h0M1058.8 409.3h0M1060.3 406.6h0M1061.8 403.8h0M1063.3 401.1h0M1064.7 398.4h0M1066.2 395.7h0M1067.7 393h0M1069.2 390.3h0M1070.7 387.6h0M1072.1 384.9h0M1073.6 382.2h0M1075.1 379.6h0M1076.6 376.9h0M1078.1 374.3h0M1079.5 371.6h0M1081 369h0M1082.5 366.4h0M1084 363.8h0M1085.5 361.1h0M1086.9 358.5h0M1088.4 355.9h0M1089.9 353.3h0M1091.4 350.7h0M1092.9 348.1h0M1094.3 345.5h0M1095.8 343h0M1097.3 340.4h0M1098.8 337.8h0M1100.3 335.2h0M1101.7 332.7h0M1103.2 330.1h0M1104.7 327.5h0M1106.2 325h0M1107.7 322.4h0M1109.1 319.9h0M1110.6 317.4h0M1112.1 314.9h0M1113.6 312.3h0M1115.1 309.9h0M1116.5 307.4h0M1118 304.9h0M1119.5 302.5h0M1121 300.1h0M1122.5 297.6h0M1123.9 295.3h0M1125.4 292.9h0M1126.9 290.5h0M1128.4 288.1h0M1129.9 285.8h0M1131.3 283.4h0M1132.8 281.1h0M1134.3 278.8h0M1135.8 276.5h0M1137.3 274.2h0M1138.7 271.9h0M1140.2 269.6h0M1141.7 267.3h0M1143.2 265.1h0M1144.7 262.8h0M1146.1 260.5h0M1147.6 258.3h0M1149.1 256h0M1150.6 253.8h0M1152.1 251.5h0M1153.5 249.3h0M1155 247h0M1156.5 244.8h0M1158 242.5h0M1159.5 240.3h0M1160.9 238.1h0M1162.4 235.9h0M1163.9 233.6h0M1165.4 231.4h0M1166.9 229.2h0M1168.3 227h0M1169.8 224.8h0M1171.3 222.6h0M1172.8 220.4h0M1174.3 218.2h0M1175.7 216h0M1177.2 213.8h0M1178.7 211.6h0M1180.2 209.5h0M1181.7 207.3h0M1183.1 205.1h0M1184.6 203h0M1186.1 200.8h0M1187.6 198.7h0M1189.1 196.6h0M1190.5 194.4h0M1192 192.3h0M1193.5 190.2h0M1195 188h0M1196.5 185.9h0M1197.9 183.8h0M1199.4 181.7h0M1200.9 179.6h0M1202.4 177.5h0M1203.9 175.4h0M1205.3 173.3h0M1206.8 171.2h0M1208.3 169.2h0M1209.8 167.1h0M1211.3 165h0M1212.7 162.9h0M1214.2 160.9h0M1215.7 158.8h0M1217.2 156.7h0M1218.7 154.7h0M1220.1 152.6h0M1221.6 150.6h0M1223.1 148.5h0M1224.6 146.5h0M1226.1 144.4h0M1227.5 142.4h0M1229 140.3h0M1230.5 138.3h0M1232 136.3h0M1233.5 134.2h0M1234.9 132.2h0M1236.4 130.2h0M1237.9 128.2h0M1239.4 126.1h0M1240.9 124.1h0M1242.3 122.1h0M1243.8 120.1h0M1245.3 118.1h0M1246.8 116.1h0M1248.3 114.1h0M1249.7 112.1h0M1251.2 110.1h0M1252.7 108.1h0M1254.2 106.1h0M1255.7 104.1h0M1257.1 102.1h0M1258.6 100.1h0M1260.1 98.2h0M1261.6 96.2h0M1263.1 94.2h0M1264.5 92.2h0M1266 90.2h0M1267.5 88.3h0M1269 86.3h0M1270.5 84.3h0M1271.9 82.4h0M1273.4 80.4h0M1274.9 78.5h0M1276.4 76.5h0M1277.9 74.5h0M1279.3 72.6h0M1280.8 70.6h0M1282.3 68.7h0"/>
<path id="l-D4" d="M987.8 607.8h0M989.3 597h0M990.7 588.8h0M992.2 581.5h0M993.7 574.8h0M995.2 568.6h0M996.7 562.6h0M998.1 556.9h0M999.6 551.5h0M1001.1 546.3h0M1002.6 541.3h0M1004.1 536.5h0M1005.5 531.8h0M1007 527.3h0M1008.5 523.1h0M1010 518.9h0M1011.5 514.9h0M1012.9 511h0M1014.4 507.3h0M1015.9 503.7h0M1017.4 500.2h0M1018.9 496.8h0M1020.3 493.5h0M1021.8 490.2h0M1023.3 487h0M1024.8 483.8h0M1026.3 480.6h0M1027.7 477.4h0M1029.2 474.3h0M1030.7 471.2h0M1032.2 468.1h0M1033.7 465h0M1035.1 461.9h0M1036.6 458.9h0M1038.1 455.9h0M1039.6 452.9h0M1041.1 449.9h0M1042.5 446.9h0M1044 443.9h0M1045.5 440.9h0M1047 438h0M1048.5 435.1h0M1049.9 432.2h0M1051.4 429.3h0M1052.9 426.4h0M1054.4 423.6h0M1055.9 420.8h0M1057.3 418h0M1058.8 415.2h0M1060.3 412.4h0M1061.8 409.7h0M1063.3 406.9h0M1064.7 404.2h0M1066.2 401.5h0M1067.7 398.7h0M1069.2 396h0M1070.7 393.3h0M1072.1 390.6h0M1073.6 388h0M1075.1 385.3h0M1076.6 382.6h0M1078.1 379.9h0M1079.5 377.3h0M1081 374.7h0M1082.5 372h0M1084 369.4h0M1085.5 366.8h0M1086.9 364.2h0M1088.4 361.5h0M1089.9 358.9h0M1091.4 356.3h0M1092.9 353.7h0M1094.3 351.1h0M1095.8 348.5h0M1097.3 345.9h0M1098.8 343.3h0M1100.3 340.8h0M1101.7 338.2h0M1103.2 335.6h0M1104.7 333h0M1106.2 330.5h0M1107.7 327.9h0M1109.1 325.3h0M1110.6 322.8h0M1112.1 320.3h0M1113.6 317.7h0M1115.1 315.2h0M1116.5 312.7h0M1118 310.2h0M1119.5 307.8h0M1121 305.3h0M1122.5 302.8h0M1123.9 300.4h0M1125.4 298h0M1126.9 295.6h0M1128.4 293.2h0M1129.9 290.8h0M1131.3 288.4h0M1132.8 286h0M1134.3 283.7h0M1135.8 281.3h0M1137.3 279h0M1138.7 276.6h0M1140.2 274.3h0M1141.7 272h0M1143.2 269.6h0M1144.7 267.3h0M1146.1 265h0M1147.6 262.7h0M1149.1 260.4h0M1150.6 258.1h0M1152.1 255.8h0M1153.5 253.5h0M1155 251.2h0M1156.5 248.9h0M1158 246.6h0M1159.5 244.3h0M1160.9 242h0M1162.4 239.7h0M1163.9 237.4h0M1165.4 235.2h0M1166.9 232.9h0M1168.3 230.6h0M1169.8 228.4h0M1171.3 226.1h0M1172.8 223.9h0M1174.3 221.6h0M1175.7 219.4h0M1177.2 217.1h0M1178.7 214.9h0M1180.2 212.7h0M1181.7 210.5h0M1183.1 208.2h0M1184.6 206h0M1186.1 203.8h0M1187.6 201.6h0M1189.1 199.5h0M1190.5 197.3h0M1192 195.1h0M1193.5 192.9h0M1195 190.8h0M1196.5 188.6h0M1197.9 186.4h0M1199.4 184.3h0M1200.9 182.2h0M1202.4 180h0M1203.9 177.9h0M1205.3 175.7h0M1206.8 173.6h0M1208.3 171.5h0M1209.8 169.4h0M1211.3 167.3h0M1212.7 165.1h0M1214.2 163h0M1215.7 160.9h0M1217.2 158.8h0M1218.7 156.7h0M1220.1 154.6h0M1221.6 152.5h0M1223.1 150.4h0M1224.6 148.3h0M1226.1 146.2h0M1227.5 144.2h0M1229 142.1h0M1230.5 140h0M1232 137.9h0M1233.5 135.8h0M1234.9 133.8h0M1236.4 131.7h0M1237.9 129.6h0M1239.4 127.6h0M1240.9 125.5h0M1242.3 123.5h0M1243.8 121.4h0M1245.3 119.3h0M1246.8 117.3h0M1248.3 115.2h0M1249.7 113.2h0M1251.2 111.1h0M1252.7 109.1h0M1254.2 107.1h0M1255.7 105h0M1257.1 103h0M1258.6 101h0M1260.1 98.9h0M1261.6 96.9h0M1263.1 94.9h0M1264.5 92.8h0M1266 90.8h0M1267.5 88.8h0M1269 86.8h0M1270.5 84.8h0M1271.9 82.7h0M1273.4 80.7h0M1274.9 78.7h0M1276.4 76.7h0M1277.9 74.7h0M1279.3 72.7h0M1280.8 70.7h0M1282.3 68.7h0"/>
<path id="l-D5" d="M987.8 610h0M989.3 600.1h0M990.7 592.3h0M992.2 585.4h0M993.7 579h0M995.2 573h0M996.7 567.2h0M998.1 561.8h0M999.6 556.5h0M1001.1 551.5h0M1002.6 546.7h0M1004.1 542h0M1005.5 537.4h0M1007 533.1h0M1008.5 528.9h0M1010 524.8h0M1011.5 520.9h0M1012.9 517h0M1014.4 513.4h0M1015.9 509.8h0M1017.4 506.3h0M1018.9 502.9h0M1020.3 499.6h0M1021.8 496.3h0M1023.3 493.1h0M1024.8 489.9h0M1026.3 486.7h0M1027.7 483.5h0M1029.2 480.4h0M1030.7 477.3h0M1032.2 474.2h0M1033.7 471.1h0M1035.1 468h0M1036.6 465h0M1038.1 462h0M1039.6 458.9h0M1041.1 455.9h0M1042.5 452.9h0M1044 449.9h0M1045.5 447h0M1047 444h0M1048.5 441.1h0M1049.9 438.2h0M1051.4 435.3h0M1052.9 432.4h0M1054.4 429.5h0M1055.9 426.7h0M1057.3 423.9h0M1058.8 421.1h0M1060.3 418.3h0M1061.8 415.5h0M1063.3 412.8h0M1064.7 410h0M1066.2 407.3h0M1067.7 404.5h0M1069.2 401.8h0M1070.7 399.1h0M1072.1 396.4h0M1073.6 393.7h0M1075.1 391h0M1076.6 388.3h0M1078.1 385.6h0M1079.5 383h0M1081 380.3h0M1082.5 377.7h0M1084 375h0M1085.5 372.4h0M1086.9 369.8h0M1088.4 367.1h0M1089.9 364.5h0M1091.4 361.9h0M1092.9 359.3h0M1094.3 356.7h0M1095.8 354.1h0M1097.3 351.5h0M1098.8 348.9h0M1100.3 346.3h0M1101.7 343.7h0M1103.2 341.1h0M1104.7 338.5h0M1106.2 335.9h0M1107.7 333.3h0M1109.1 330.8h0M1110.6 328.2h0M1112.1 325.6h0M1113.6 323.1h0M1115.1 320.6h0M1116.5 318h0M1118 315.5h0M1119.5 313h0M1121 310.5h0M1122.5 308.1h0M1123.9 305.6h0M1125.4 303.1h0M1126.9 300.7h0M1128.4 298.2h0M1129.9 295.8h0M1131.3 293.4h0M1132.8 291h0M1134.3 288.5h0M1135.8 286.1h0M1137.3 283.7h0M1138.7 281.4h0M1140.2 279h0M1141.7 276.6h0M1143.2 274.2h0M1144.7 271.8h0M1146.1 269.5h0M1147.6 267.1h0M1149.1 264.7h0M1150.6 262.4h0M1152.1 260h0M1153.5 257.7h0M1155 255.3h0M1156.5 253h0M1158 250.6h0M1159.5 248.3h0M1160.9 245.9h0M1162.4 243.6h0M1163.9 241.2h0M1165.4 238.9h0M1166.9 236.6h0M1168.3 234.3h0M1169.8 231.9h0M1171.3 229.6h0M1172.8 227.3h0M1174.3 225h0M1175.7 222.7h0M1177.2 220.4h0M1178.7 218.2h0M1180.2 215.9h0M1181.7 213.6h0M1183.1 211.3h0M1184.6 209.1h0M1186.1 206.8h0M1187.6 204.6h0M1189.1 202.4h0M1190.5 200.1h0M1192 197.9h0M1193.5 195.7h0M1195 193.5h0M1196.5 191.3h0M1197.9 189.1h0M1199.4 186.9h0M1200.9 184.7h0M1202.4 182.5h0M1203.9 180.3h0M1205.3 178.2h0M1206.8 176h0M1208.3 173.8h0M1209.8 171.7h0M1211.3 169.5h0M1212.7 167.4h0M1214.2 165.2h0M1215.7 163.1h0M1217.2 160.9h0M1218.7 158.8h0M1220.1 156.6h0M1221.6 154.5h0M1223.1 152.3h0M1224.6 150.2h0M1226.1 148.1h0M1227.5 145.9h0M1229 143.8h0M1230.5 141.7h0M1232 139.6h0M1233.5 137.5h0M1234.9 135.3h0M1236.4 133.2h0M1237.9 131.1h0M1239.4 129h0M1240.9 126.9h0M1242.3 124.8h0M1243.8 122.7h0M1245.3 120.6h0M1246.8 118.5h0M1248.3 116.4h0M1249.7 114.3h0M1251.2 112.2h0M1252.7 110.1h0M1254.2 108h0M1255.7 105.9h0M1257.1 103.9h0M1258.6 101.8h0M1260.1 99.7h0M1261.6 97.6h0M1263.1 95.5h0M1264.5 93.5h0M1266 91.4h0M1267.5 89.3h0M1269 87.2h0M1270.5 85.2h0M1271.9 83.1h0M1273.4 81h0M1274.9 79h0M1276.4 76.9h0M1277.9 74.9h0M1279.3 72.8h0M1280.8 70.8h0M1282.3 68.7h0"/>
<path id="l-D6" d="M987.8 612.2h0M989.3 603.1h0M990.7 595.8h0M992.2 589.3h0M993.7 583.1h0M995.2 577.4h0M996.7 571.9h0M998.1 566.6h0M999.6 561.6h0M1001.1 556.7h0M1002.6 552h0M1004.1 547.4h0M1005.5 543h0M1007 538.8h0M1008.5 534.7h0M1010 530.7h0M1011.5 526.8h0M1012.9 523h0M1014.4 519.4h0M1015.9 515.9h0M1017.4 512.4h0M1018.9 509.1h0M1020.3 505.7h0M1021.8 502.5h0M1023.3 499.2h0M1024.8 496h0M1026.3 492.8h0M1027.7 489.6h0M1029.2 486.5h0M1030.7 483.4h0M1032.2 480.3h0M1033.7 477.2h0M1035.1 474.1h0M1036.6 471.1h0M1038.1 468h0M1039.6 465h0M1041.1 462h0M1042.5 459h0M1044 456h0M1045.5 453h0M1047 450h0M1048.5 447.1h0M1049.9 444.2h0M1051.4 441.3h0M1052.9 438.4h0M1054.4 435.5h0M1055.9 432.7h0M1057.3 429.8h0M1058.8 427h0M1060.3 424.2h0M1061.8 421.4h0M1063.3 418.6h0M1064.7 415.8h0M1066.2 413h0M1067.7 410.3h0M1069.2 407.5h0M1070.7 404.8h0M1072.1 402.1h0M1073.6 399.4h0M1075.1 396.7h0M1076.6 394h0M1078.1 391.3h0M1079.5 388.6h0M1081 386h0M1082.5 383.3h0M1084 380.7h0M1085.5 378h0M1086.9 375.4h0M1088.4 372.8h0M1089.9 370.1h0M1091.4 367.5h0M1092.9 364.9h0M1094.3 362.3h0M1095.8 359.6h0M1097.3 357h0M1098.8 354.4h0M1100.3 351.8h0M1101.7 349.2h0M1103.2 346.6h0M1104.7 344h0M1106.2 341.4h0M1107.7 338.8h0M1109.1 336.2h0M1110.6 333.6h0M1112.1 331h0M1113.6 328.5h0M1115.1 325.9h0M1116.5 323.4h0M1118 320.8h0M1119.5 318.3h0M1121 315.8h0M1122.5 313.3h0M1123.9 310.8h0M1125.4 308.3h0M1126.9 305.8h0M1128.4 303.3h0M1129.9 300.8h0M1131.3 298.3h0M1132.8 295.9h0M1134.3 293.4h0M1135.8 291h0M1137.3 288.5h0M1138.7 286.1h0M1140.2 283.7h0M1141.7 281.2h0M1143.2 278.8h0M1144.7 276.4h0M1146.1 273.9h0M1147.6 271.5h0M1149.1 269.1h0M1150.6 266.7h0M1152.1 264.3h0M1153.5 261.9h0M1155 259.4h0M1156.5 257h0M1158 254.6h0M1159.5 252.2h0M1160.9 249.8h0M1162.4 247.4h0M1163.9 245h0M1165.4 242.7h0M1166.9 240.3h0M1168.3 237.9h0M1169.8 235.5h0M1171.3 233.2h0M1172.8 230.8h0M1174.3 228.4h0M1175.7 226.1h0M1177.2 223.7h0M1178.7 221.4h0M1180.2 219.1h0M1181.7 216.8h0M1183.1 214.4h0M1184.6 212.1h0M1186.1 209.8h0M1187.6 207.6h0M1189.1 205.3h0M1190.5 203h0M1192 200.7h0M1193.5 198.5h0M1195 196.2h0M1196.5 194h0M1197.9 191.7h0M1199.4 189.5h0M1200.9 187.2h0M1202.4 185h0M1203.9 182.8h0M1205.3 180.6h0M1206.8 178.4h0M1208.3 176.2h0M1209.8 174h0M1211.3 171.8h0M1212.7 169.6h0M1214.2 167.4h0M1215.7 165.2h0M1217.2 163h0M1218.7 160.8h0M1220.1 158.6h0M1221.6 156.4h0M1223.1 154.3h0M1224.6 152.1h0M1226.1 149.9h0M1227.5 147.7h0M1229 145.6h0M1230.5 143.4h0M1232 141.2h0M1233.5 139.1h0M1234.9 136.9h0M1236.4 134.8h0M1237.9 132.6h0M1239.4 130.4h0M1240.9 128.3h0M1242.3 126.1h0M1243.8 124h0M1245.3 121.8h0M1246.8 119.7h0M1248.3 117.6h0M1249.7 115.4h0M1251.2 113.3h0M1252.7 111.1h0M1254.2 109h0M1255.7 106.9h0M1257.1 104.7h0M1258.6 102.6h0M1260.1 100.5h0M1261.6 98.3h0M1263.1 96.2h0M1264.5 94.1h0M1266 92h0M1267.5 89.8h0M1269 87.7h0M1270.5 85.6h0M1271.9 83.5h0M1273.4 81.4h0M1274.9 79.2h0M1276.4 77.1h0M1277.9 75h0M1279.3 72.9h0M1280.8 70.8h0M1282.3 68.7h0"/>
<path id="l-D7" d="M987.8 614.4h0M989.3 606.2h0M990.7 599.3h0M992.2 593.1h0M993.7 587.3h0M995.2 581.8h0M996.7 576.5h0M998.1 571.4h0M999.6 566.6h0M1001.1 561.9h0M1002.6 557.3h0M1004.1 552.9h0M1005.5 548.6h0M1007 544.5h0M1008.5 540.5h0M1010 536.6h0M1011.5 532.8h0M1012.9 529.1h0M1014.4 525.5h0M1015.9 522h0M1017.4 518.5h0M1018.9 515.2h0M1020.3 511.9h0M1021.8 508.6h0M1023.3 505.3h0M1024.8 502.1h0M1026.3 498.9h0M1027.7 495.8h0M1029.2 492.6h0M1030.7 489.5h0M1032.2 486.4h0M1033.7 483.3h0M1035.1 480.2h0M1036.6 477.2h0M1038.1 474.1h0M1039.6 471.1h0M1041.1 468.1h0M1042.5 465h0M1044 462h0M1045.5 459h0M1047 456.1h0M1048.5 453.1h0M1049.9 450.2h0M1051.4 447.3h0M1052.9 444.4h0M1054.4 441.5h0M1055.9 438.6h0M1057.3 435.7h0M1058.8 432.9h0M1060.3 430.1h0M1061.8 427.2h0M1063.3 424.4h0M1064.7 421.6h0M1066.2 418.8h0M1067.7 416.1h0M1069.2 413.3h0M1070.7 410.6h0M1072.1 407.8h0M1073.6 405.1h0M1075.1 402.4h0M1076.6 399.7h0M1078.1 397h0M1079.5 394.3h0M1081 391.6h0M1082.5 389h0M1084 386.3h0M1085.5 383.6h0M1086.9 381h0M1088.4 378.4h0M1089.9 375.7h0M1091.4 373.1h0M1092.9 370.5h0M1094.3 367.8h0M1095.8 365.2h0M1097.3 362.6h0M1098.8 359.9h0M1100.3 357.3h0M1101.7 354.7h0M1103.2 352.1h0M1104.7 349.5h0M1106.2 346.8h0M1107.7 344.2h0M1109.1 341.6h0M1110.6 339h0M1112.1 336.4h0M1113.6 333.8h0M1115.1 331.3h0M1116.5 328.7h0M1118 326.1h0M1119.5 323.6h0M1121 321h0M1122.5 318.5h0M1123.9 315.9h0M1125.4 313.4h0M1126.9 310.9h0M1128.4 308.3h0M1129.9 305.8h0M1131.3 303.3h0M1132.8 300.8h0M1134.3 298.3h0M1135.8 295.8h0M1137.3 293.3h0M1138.7 290.8h0M1140.2 288.3h0M1141.7 285.8h0M1143.2 283.4h0M1144.7 280.9h0M1146.1 278.4h0M1147.6 275.9h0M1149.1 273.5h0M1150.6 271h0M1152.1 268.5h0M1153.5 266.1h0M1155 263.6h0M1156.5 261.1h0M1158 258.7h0M1159.5 256.2h0M1160.9 253.7h0M1162.4 251.3h0M1163.9 248.8h0M1165.4 246.4h0M1166.9 244h0M1168.3 241.5h0M1169.8 239.1h0M1171.3 236.7h0M1172.8 234.3h0M1174.3 231.9h0M1175.7 229.4h0M1177.2 227.1h0M1178.7 224.7h0M1180.2 222.3h0M1181.7 219.9h0M1183.1 217.5h0M1184.6 215.2h0M1186.1 212.8h0M1187.6 210.5h0M1189.1 208.2h0M1190.5 205.8h0M1192 203.5h0M1193.5 201.2h0M1195 198.9h0M1196.5 196.6h0M1197.9 194.3h0M1199.4 192.1h0M1200.9 189.8h0M1202.4 187.5h0M1203.9 185.3h0M1205.3 183h0M1206.8 180.8h0M1208.3 178.5h0M1209.8 176.3h0M1211.3 174h0M1212.7 171.8h0M1214.2 169.5h0M1215.7 167.3h0M1217.2 165.1h0M1218.7 162.8h0M1220.1 160.6h0M1221.6 158.4h0M1223.1 156.2h0M1224.6 154h0M1226.1 151.7h0M1227.5 149.5h0M1229 147.3h0M1230.5 145.1h0M1232 142.9h0M1233.5 140.7h0M1234.9 138.5h0M1236.4 136.3h0M1237.9 134.1h0M1239.4 131.9h0M1240.9 129.7h0M1242.3 127.5h0M1243.8 125.3h0M1245.3 123.1h0M1246.8 120.9h0M1248.3 118.7h0M1249.7 116.5h0M1251.2 114.3h0M1252.7 112.1h0M1254.2 110h0M1255.7 107.8h0M1257.1 105.6h0M1258.6 103.4h0M1260.1 101.2h0M1261.6 99.1h0M1263.1 96.9h0M1264.5 94.7h0M1266 92.5h0M1267.5 90.4h0M1269 88.2h0M1270.5 86h0M1271.9 83.8h0M1273.4 81.7h0M1274.9 79.5h0M1276.4 77.3h0M1277.9 75.2h0M1279.3 73h0M1280.8 70.9h0M1282.3 68.7h0"/>
<path id="l-D8" d="M987.8 616.6h0M989.3 609.2h0M990.7 602.8h0M992.2 597h0M993.7 591.5h0M995.2 586.2h0M996.7 581.1h0M998.1 576.3h0M999.6 571.6h0M1001.1 567.1h0M1002.6 562.7h0M1004.1 558.4h0M1005.5 554.2h0M1007 550.2h0M1008.5 546.3h0M1010 542.5h0M1011.5 538.7h0M1012.9 535.1h0M1014.4 531.5h0M1015.9 528.1h0M1017.4 524.6h0M1018.9 521.3h0M1020.3 518h0M1021.8 514.7h0M1023.3 511.5h0M1024.8 508.2h0M1026.3 505h0M1027.7 501.9h0M1029.2 498.7h0M1030.7 495.6h0M1032.2 492.5h0M1033.7 489.4h0M1035.1 486.3h0M1036.6 483.2h0M1038.1 480.2h0M1039.6 477.2h0M1041.1 474.1h0M1042.5 471.1h0M1044 468.1h0M1045.5 465.1h0M1047 462.1h0M1048.5 459.1h0M1049.9 456.2h0M1051.4 453.2h0M1052.9 450.3h0M1054.4 447.4h0M1055.9 444.5h0M1057.3 441.6h0M1058.8 438.8h0M1060.3 435.9h0M1061.8 433.1h0M1063.3 430.3h0M1064.7 427.4h0M1066.2 424.6h0M1067.7 421.8h0M1069.2 419.1h0M1070.7 416.3h0M1072.1 413.5h0M1073.6 410.8h0M1075.1 408.1h0M1076.6 405.3h0M1078.1 402.6h0M1079.5 400h0M1081 397.3h0M1082.5 394.6h0M1084 391.9h0M1085.5 389.3h0M1086.9 386.6h0M1088.4 384h0M1089.9 381.3h0M1091.4 378.7h0M1092.9 376h0M1094.3 373.4h0M1095.8 370.7h0M1097.3 368.1h0M1098.8 365.5h0M1100.3 362.8h0M1101.7 360.2h0M1103.2 357.6h0M1104.7 354.9h0M1106.2 352.3h0M1107.7 349.7h0M1109.1 347.1h0M1110.6 344.4h0M1112.1 341.8h0M1113.6 339.2h0M1115.1 336.6h0M1116.5 334h0M1118 331.4h0M1119.5 328.8h0M1121 326.3h0M1122.5 323.7h0M1123.9 321.1h0M1125.4 318.5h0M1126.9 316h0M1128.4 313.4h0M1129.9 310.8h0M1131.3 308.3h0M1132.8 305.7h0M1134.3 303.2h0M1135.8 300.6h0M1137.3 298.1h0M1138.7 295.5h0M1140.2 293h0M1141.7 290.5h0M1143.2 287.9h0M1144.7 285.4h0M1146.1 282.9h0M1147.6 280.4h0M1149.1 277.8h0M1150.6 275.3h0M1152.1 272.8h0M1153.5 270.3h0M1155 267.7h0M1156.5 265.2h0M1158 262.7h0M1159.5 260.2h0M1160.9 257.7h0M1162.4 255.2h0M1163.9 252.6h0M1165.4 250.1h0M1166.9 247.6h0M1168.3 245.2h0M1169.8 242.7h0M1171.3 240.2h0M1172.8 237.7h0M1174.3 235.3h0M1175.7 232.8h0M1177.2 230.4h0M1178.7 227.9h0M1180.2 225.5h0M1181.7 223.1h0M1183.1 220.7h0M1184.6 218.2h0M1186.1 215.8h0M1187.6 213.5h0M1189.1 211.1h0M1190.5 208.7h0M1192 206.3h0M1193.5 204h0M1195 201.6h0M1196.5 199.3h0M1197.9 197h0M1199.4 194.7h0M1200.9 192.3h0M1202.4 190h0M1203.9 187.7h0M1205.3 185.4h0M1206.8 183.1h0M1208.3 180.9h0M1209.8 178.6h0M1211.3 176.3h0M1212.7 174h0M1214.2 171.7h0M1215.7 169.4h0M1217.2 167.2h0M1218.7 164.9h0M1220.1 162.6h0M1221.6 160.4h0M1223.1 158.1h0M1224.6 155.8h0M1226.1 153.6h0M1227.5 151.3h0M1229 149h0M1230.5 146.8h0M1232 144.5h0M1233.5 142.3h0M1234.9 140h0M1236.4 137.8h0M1237.9 135.5h0M1239.4 133.3h0M1240.9 131.1h0M1242.3 128.8h0M1243.8 126.6h0M1245.3 124.3h0M1246.8 122.1h0M1248.3 119.9h0M1249.7 117.6h0M1251.2 115.4h0M1252.7 113.2h0M1254.2 110.9h0M1255.7 108.7h0M1257.1 106.5h0M1258.6 104.2h0M1260.1 102h0M1261.6 99.8h0M1263.1 97.5h0M1264.5 95.3h0M1266 93.1h0M1267.5 90.9h0M1269 88.7h0M1270.5 86.4h0M1271.9 84.2h0M1273.4 82h0M1274.9 79.8h0M1276.4 77.6h0M1277.9 75.3h0M1279.3 73.1h0M1280.8 70.9h0M1282.3 68.7h0"/>
<path id="l-D9" d="M987.8 618.8h0M989.3 612.2h0M990.7 606.4h0M992.2 600.8h0M993.7 595.6h0M995.2 590.6h0M996.7 585.8h0M998.1 581.1h0M999.6 576.6h0M1001.1 572.2h0M1002.6 568h0M1004.1 563.9h0M1005.5 559.8h0M1007 555.9h0M1008.5 552.1h0M1010 548.3h0M1011.5 544.7h0M1012.9 541.1h0M1014.4 537.6h0M1015.9 534.1h0M1017.4 530.7h0M1018.9 527.4h0M1020.3 524.1h0M1021.8 520.8h0M1023.3 517.6h0M1024.8 514.4h0M1026.3 511.2h0M1027.7 508h0M1029.2 504.8h0M1030.7 501.7h0M1032.2 498.6h0M1033.7 495.5h0M1035.1 492.4h0M1036.6 489.3h0M1038.1 486.3h0M1039.6 483.2h0M1041.1 480.2h0M1042.5 477.2h0M1044 474.1h0M1045.5 471.1h0M1047 468.1h0M1048.5 465.2h0M1049.9 462.2h0M1051.4 459.2h0M1052.9 456.3h0M1054.4 453.4h0M1055.9 450.5h0M1057.3 447.6h0M1058.8 444.7h0M1060.3 441.8h0M1061.8 438.9h0M1063.3 436.1h0M1064.7 433.3h0M1066.2 430.4h0M1067.7 427.6h0M1069.2 424.8h0M1070.7 422h0M1072.1 419.3h0M1073.6 416.5h0M1075.1 413.8h0M1076.6 411h0M1078.1 408.3h0M1079.5 405.6h0M1081 402.9h0M1082.5 400.2h0M1084 397.6h0M1085.5 394.9h0M1086.9 392.2h0M1088.4 389.6h0M1089.9 386.9h0M1091.4 384.3h0M1092.9 381.6h0M1094.3 379h0M1095.8 376.3h0M1097.3 373.7h0M1098.8 371h0M1100.3 368.4h0M1101.7 365.7h0M1103.2 363.1h0M1104.7 360.4h0M1106.2 357.8h0M1107.7 355.1h0M1109.1 352.5h0M1110.6 349.9h0M1112.1 347.2h0M1113.6 344.6h0M1115.1 342h0M1116.5 339.3h0M1118 336.7h0M1119.5 334.1h0M1121 331.5h0M1122.5 328.9h0M1123.9 326.3h0M1125.4 323.7h0M1126.9 321h0M1128.4 318.4h0M1129.9 315.8h0M1131.3 313.2h0M1132.8 310.6h0M1134.3 308h0M1135.8 305.5h0M1137.3 302.9h0M1138.7 300.3h0M1140.2 297.7h0M1141.7 295.1h0M1143.2 292.5h0M1144.7 289.9h0M1146.1 287.3h0M1147.6 284.8h0M1149.1 282.2h0M1150.6 279.6h0M1152.1 277h0M1153.5 274.5h0M1155 271.9h0M1156.5 269.3h0M1158 266.7h0M1159.5 264.2h0M1160.9 261.6h0M1162.4 259h0M1163.9 256.5h0M1165.4 253.9h0M1166.9 251.3h0M1168.3 248.8h0M1169.8 246.3h0M1171.3 243.7h0M1172.8 241.2h0M1174.3 238.7h0M1175.7 236.2h0M1177.2 233.7h0M1178.7 231.2h0M1180.2 228.7h0M1181.7 226.2h0M1183.1 223.8h0M1184.6 221.3h0M1186.1 218.8h0M1187.6 216.4h0M1189.1 214h0M1190.5 211.6h0M1192 209.2h0M1193.5 206.8h0M1195 204.4h0M1196.5 202h0M1197.9 199.6h0M1199.4 197.2h0M1200.9 194.9h0M1202.4 192.5h0M1203.9 190.2h0M1205.3 187.9h0M1206.8 185.5h0M1208.3 183.2h0M1209.8 180.9h0M1211.3 178.5h0M1212.7 176.2h0M1214.2 173.9h0M1215.7 171.6h0M1217.2 169.3h0M1218.7 166.9h0M1220.1 164.6h0M1221.6 162.3h0M1223.1 160h0M1224.6 157.7h0M1226.1 155.4h0M1227.5 153.1h0M1229 150.8h0M1230.5 148.5h0M1232 146.2h0M1233.5 143.9h0M1234.9 141.6h0M1236.4 139.3h0M1237.9 137h0M1239.4 134.7h0M1240.9 132.4h0M1242.3 130.2h0M1243.8 127.9h0M1245.3 125.6h0M1246.8 123.3h0M1248.3 121h0M1249.7 118.7h0M1251.2 116.5h0M1252.7 114.2h0M1254.2 111.9h0M1255.7 109.6h0M1257.1 107.3h0M1258.6 105h0M1260.1 102.8h0M1261.6 100.5h0M1263.1 98.2h0M1264.5 95.9h0M1266 93.7h0M1267.5 91.4h0M1269 89.1h0M1270.5 86.8h0M1271.9 84.6h0M1273.4 82.3h0M1274.9 80h0M1276.4 77.8h0M1277.9 75.5h0M1279.3 73.2h0M1280.8 71h0M1282.3 68.7h0"/>
<path id="r-RU" d="M1330.8 615h0M1332.3 604.1h0M1333.7 593h0M1335.2 587.2h0M1336.7 581.8h0M1338.2 576.5h0M1339.7 571.2h0M1341.1 566.1h0M1342.6 561.4h0M1344.1 556.8h0M1345.6 552.1h0M1347.1 547.4h0M1348.6 542.6h0M1350 537.8h0M1351.5 533h0M1353 528.1h0M1354.5 523.3h0M1356 518.1h0M1357.4 512.2h0M1358.9 506.2h0M1360.4 500.2h0M1361.9 495.9h0M1363.4 491.7h0M1364.8 487.4h0M1366.3 483.3h0M1367.8 480h0M1369.3 476.6h0M1370.8 473.3h0M1372.2 470.6h0M1373.7 467.8h0M1375.2 465.1h0M1376.7 462.3h0M1378.2 459.5h0M1379.7 456.8h0M1381.1 454h0M1382.6 451.2h0M1384.1 448.5h0M1385.6 445.6h0M1387.1 442.6h0M1388.5 439.6h0M1390 436.6h0M1391.5 433.7h0M1393 430.7h0M1394.5 427.7h0M1395.9 424.7h0M1397.4 421.8h0M1398.9 418.9h0M1400.4 416.1h0M1401.9 413.3h0M1403.3 410.6h0M1404.8 407.8h0M1406.3 405.1h0M1407.8 402.3h0M1409.3 399.5h0M1410.8 396.8h0M1412.2 394h0M1413.7 391h0M1415.2 388.1h0M1416.7 385.1h0M1418.2 382.1h0M1419.6 379.1h0M1421.1 376.2h0M1422.6 373.2h0M1424.1 370.2h0M1425.6 367.2h0M1427 364.2h0M1428.5 361.3h0M1430 358.3h0M1431.5 355.3h0M1433 352.3h0M1434.5 349.4h0M1435.9 346.4h0M1437.4 343.4h0M1438.9 340.5h0M1440.4 337.5h0M1441.9 334.5h0M1443.3 331.5h0M1444.8 328.5h0M1446.3 325.6h0M1447.8 322.6h0M1449.3 319.9h0M1450.7 317.3h0M1452.2 314.7h0M1453.7 312.1h0M1455.2 309.5h0M1456.7 306.6h0M1458.1 303.4h0M1459.6 300.2h0M1461.1 297h0M1462.6 293.8h0M1464.1 290.5h0M1465.6 287.3h0M1467 284.1h0M1468.5 280.7h0M1470 277.1h0M1471.5 273.5h0M1473 269.9h0M1474.4 266.3h0M1475.9 262.7h0M1477.4 259h0M1478.9 255.4h0M1480.4 251.8h0M1481.8 248.2h0M1483.3 244.7h0M1484.8 241.3h0M1486.3 237.8h0M1487.8 234.3h0M1489.2 230.8h0M1490.7 227.4h0M1492.2 223.9h0M1493.7 220.4h0M1495.2 217h0M1496.7 213.5h0M1498.1 211.6h0M1499.6 210.1h0M1501.1 208.5h0M1502.6 206.9h0M1504.1 205.3h0M1505.5 203.7h0M1507 202.1h0M1508.5 200.5h0M1510 198.9h0M1511.5 197.4h0M1512.9 194.1h0M1514.4 190.4h0M1515.9 186.9h0M1517.4 183.8h0M1518.9 181.9h0M1520.3 180.4h0M1521.8 178.9h0M1523.3 177.4h0M1524.8 176h0M1526.3 174.5h0M1527.8 173h0M1529.2 171.5h0M1530.7 169.1h0M1532.2 166.2h0M1533.7 163.3h0M1535.2 160.4h0M1536.6 157.5h0M1538.1 154.6h0M1539.6 151.7h0M1541.1 149.2h0M1542.6 147.8h0M1544 146.4h0M1545.5 145h0M1547 143.6h0M1548.5 142.1h0M1550 140.7h0M1551.5 139.3h0M1552.9 137.9h0M1554.4 136.5h0M1555.9 135.1h0M1557.4 133.7h0M1558.9 132.3h0M1560.3 130.8h0M1561.8 129.4h0M1563.3 128h0M1564.8 126.6h0M1566.3 125.2h0M1567.7 123.8h0M1569.2 122.4h0M1570.7 121h0M1572.2 119.5h0M1573.7 118.1h0M1575.1 116.7h0M1576.6 115.3h0M1578.1 113.9h0M1579.6 112.5h0M1581.1 111.1h0M1582.6 109.7h0M1584 108.2h0M1585.5 106.8h0M1587 105.4h0M1588.5 104h0M1590 102.6h0M1591.4 101.2h0M1592.9 99.8h0M1594.4 98.4h0M1595.9 96.9h0M1597.4 95.5h0M1598.8 94.1h0M1600.3 92.7h0M1601.8 91.3h0M1603.3 89.9h0M1604.8 88.5h0M1606.2 87.1h0M1607.7 85.6h0M1609.2 84.2h0M1610.7 82.8h0M1612.2 81.4h0M1613.7 80h0M1615.1 78.6h0M1616.6 77.2h0M1618.1 75.8h0M1619.6 74.3h0M1621.1 72.9h0M1622.5 71.5h0M1624 70.1h0M1625.5 68.7h0"/>
<path id="r-RL" d="M1330.8 620.6h0M1332.3 615.2h0M1333.7 610.2h0M1335.2 605.4h0M1336.7 600.8h0M1338.2 596.3h0M1339.7 592h0M1341.1 587.8h0M1342.6 583.7h0M1344.1 579.7h0M1345.6 575.8h0M1347.1 571.9h0M1348.6 568.2h0M1350 564.4h0M1351.5 560.8h0M1353 557.2h0M1354.5 553.6h0M1356 550.1h0M1357.4 546.7h0M1358.9 543.2h0M1360.4 539.8h0M1361.9 536.5h0M1363.4 533.2h0M1364.8 529.9h0M1366.3 526.6h0M1367.8 523.3h0M1369.3 520.1h0M1370.8 516.9h0M1372.2 513.7h0M1373.7 510.6h0M1375.2 507.4h0M1376.7 504.3h0M1378.2 501.2h0M1379.7 498.1h0M1381.1 495h0M1382.6 492h0M1384.1 489h0M1385.6 486h0M1387.1 483h0M1388.5 480.1h0M1390 477.2h0M1391.5 474.3h0M1393 471.4h0M1394.5 468.5h0M1395.9 465.7h0M1397.4 463h0M1398.9 460.2h0M1400.4 457.5h0M1401.9 454.8h0M1403.3 452.1h0M1404.8 449.5h0M1406.3 446.8h0M1407.8 444.2h0M1409.3 441.6h0M1410.8 439.1h0M1412.2 436.5h0M1413.7 433.9h0M1415.2 431.3h0M1416.7 428.8h0M1418.2 426.2h0M1419.6 423.7h0M1421.1 421.1h0M1422.6 418.5h0M1424.1 416h0M1425.6 413.4h0M1427 410.9h0M1428.5 408.3h0M1430 405.7h0M1431.5 403.2h0M1433 400.6h0M1434.5 398.1h0M1435.9 395.5h0M1437.4 393h0M1438.9 390.4h0M1440.4 387.8h0M1441.9 385.3h0M1443.3 382.7h0M1444.8 380.2h0M1446.3 377.6h0M1447.8 375.1h0M1449.3 372.5h0M1450.7 370h0M1452.2 367.4h0M1453.7 364.9h0M1455.2 362.3h0M1456.7 359.7h0M1458.1 357.2h0M1459.6 354.6h0M1461.1 352.1h0M1462.6 349.5h0M1464.1 347h0M1465.6 344.4h0M1467 341.9h0M1468.5 339.3h0M1470 336.8h0M1471.5 334.2h0M1473 331.7h0M1474.4 329.1h0M1475.9 326.5h0M1477.4 324h0M1478.9 321.4h0M1480.4 318.9h0M1481.8 316.3h0M1483.3 313.8h0M1484.8 311.2h0M1486.3 308.7h0M1487.8 306.1h0M1489.2 303.6h0M1490.7 301h0M1492.2 298.5h0M1493.7 295.9h0M1495.2 293.4h0M1496.7 290.8h0M1498.1 288.3h0M1499.6 285.7h0M1501.1 283.1h0M1502.6 280.6h0M1504.1 278h0M1505.5 275.5h0M1507 272.9h0M1508.5 270.4h0M1510 267.8h0M1511.5 265.3h0M1512.9 262.7h0M1514.4 260.2h0M1515.9 257.6h0M1517.4 255.1h0M1518.9 252.5h0M1520.3 250h0M1521.8 247.4h0M1523.3 244.9h0M1524.8 242.3h0M1526.3 239.7h0M1527.8 237.2h0M1529.2 234.6h0M1530.7 232.1h0M1532.2 229.5h0M1533.7 227h0M1535.2 224.4h0M1536.6 221.9h0M1538.1 219.3h0M1539.6 216.8h0M1541.1 214.2h0M1542.6 211.7h0M1544 209.1h0M1545.5 206.6h0M1547 204h0M1548.5 201.5h0M1550 198.9h0M1551.5 196.3h0M1552.9 193.8h0M1554.4 191.2h0M1555.9 188.7h0M1557.4 186.1h0M1558.9 183.6h0M1560.3 181h0M1561.8 178.5h0M1563.3 175.9h0M1564.8 173.4h0M1566.3 170.8h0M1567.7 168.3h0M1569.2 165.7h0M1570.7 163.2h0M1572.2 160.6h0M1573.7 158.1h0M1575.1 155.5h0M1576.6 152.9h0M1578.1 150.4h0M1579.6 147.8h0M1581.1 145.3h0M1582.6 142.7h0M1584 140.2h0M1585.5 137.6h0M1587 135.1h0M1588.5 132.5h0M1590 130h0M1591.4 127.4h0M1592.9 124.9h0M1594.4 122.3h0M1595.9 119.8h0M1597.4 117.2h0M1598.8 114.7h0M1600.3 112.1h0M1601.8 109.5h0M1603.3 107h0M1604.8 104.4h0M1606.2 101.9h0M1607.7 99.3h0M1609.2 96.8h0M1610.7 94.2h0M1612.2 91.7h0M1613.7 89.1h0M1615.1 86.6h0M1616.6 84h0M1618.1 81.5h0M1619.6 78.9h0M1621.1 76.4h0M1622.5 73.8h0M1624 71.3h0M1625.5 68.7h0"/>
<path id="r-R1b" d="M1330.8 614.5h0M1332.3 605.8h0M1333.7 598.6h0M1335.2 592h0M1336.7 585.9h0M1338.2 580.1h0M1339.7 574.6h0M1341.1 569.3h0M1342.6 564.1h0M1344.1 559.2h0M1345.6 554.2h0M1347.1 549.3h0M1348.6 544.5h0M1350 539.9h0M1351.5 535.2h0M1353 530.7h0M1354.5 526.2h0M1356 521.7h0M1357.4 517.4h0M1358.9 513.1h0M1360.4 508.9h0M1361.9 504.9h0M1363.4 500.9h0M1364.8 497.1h0M1366.3 493.4h0M1367.8 489.8h0M1369.3 486.3h0M1370.8 482.9h0M1372.2 479.6h0M1373.7 476.4h0M1375.2 473.4h0M1376.7 470.3h0M1378.2 467.3h0M1379.7 464.3h0M1381.1 461.3h0M1382.6 458.3h0M1384.1 455.4h0M1385.6 452.4h0M1387.1 449.4h0M1388.5 446.5h0M1390 443.5h0M1391.5 440.6h0M1393 437.6h0M1394.5 434.7h0M1395.9 431.7h0M1397.4 428.8h0M1398.9 425.8h0M1400.4 422.9h0M1401.9 419.9h0M1403.3 417h0M1404.8 414.1h0M1406.3 411.1h0M1407.8 408.2h0M1409.3 405.2h0M1410.8 402.3h0M1412.2 399.3h0M1413.7 396.4h0M1415.2 393.4h0M1416.7 390.4h0M1418.2 387.4h0M1419.6 384.4h0M1421.1 381.4h0M1422.6 378.4h0M1424.1 375.4h0M1425.6 372.4h0M1427 369.4h0M1428.5 366.4h0M1430 363.4h0M1431.5 360.4h0M1433 357.4h0M1434.5 354.4h0M1435.9 351.4h0M1437.4 348.4h0M1438.9 345.4h0M1440.4 342.4h0M1441.9 339.4h0M1443.3 336.4h0M1444.8 333.4h0M1446.3 330.4h0M1447.8 327.4h0M1449.3 324.3h0M1450.7 321.3h0M1452.2 318.3h0M1453.7 315.3h0M1455.2 312.3h0M1456.7 309.3h0M1458.1 306.3h0M1459.6 303.2h0M1461.1 300.2h0M1462.6 297.2h0M1464.1 294.2h0M1465.6 291.2h0M1467 288.1h0M1468.5 285.1h0M1470 282.1h0M1471.5 279.1h0M1473 276.1h0M1474.4 273h0M1475.9 270h0M1477.4 266.9h0M1478.9 263.8h0M1480.4 260.8h0M1481.8 257.7h0M1483.3 254.6h0M1484.8 251.5h0M1486.3 248.4h0M1487.8 245.4h0M1489.2 242.3h0M1490.7 239.3h0M1492.2 236.2h0M1493.7 233.2h0M1495.2 230.2h0M1496.7 227.3h0M1498.1 224.4h0M1499.6 221.5h0M1501.1 218.6h0M1502.6 215.9h0M1504.1 213.1h0M1505.5 210.4h0M1507 207.7h0M1508.5 205h0M1510 202.4h0M1511.5 199.8h0M1512.9 197.3h0M1514.4 194.7h0M1515.9 192.3h0M1517.4 189.9h0M1518.9 187.5h0M1520.3 185.2h0M1521.8 182.9h0M1523.3 180.7h0M1524.8 178.5h0M1526.3 176.3h0M1527.8 174.1h0M1529.2 172h0M1530.7 169.8h0M1532.2 167.8h0M1533.7 165.7h0M1535.2 163.6h0M1536.6 161.6h0M1538.1 159.6h0M1539.6 157.7h0M1541.1 155.7h0M1542.6 153.8h0M1544 151.9h0M1545.5 150h0M1547 148.2h0M1548.5 146.3h0M1550 144.5h0M1551.5 142.7h0M1552.9 140.9h0M1554.4 139.2h0M1555.9 137.5h0M1557.4 135.8h0M1558.9 134.1h0M1560.3 132.4h0M1561.8 130.8h0M1563.3 129.1h0M1564.8 127.5h0M1566.3 125.9h0M1567.7 124.3h0M1569.2 122.7h0M1570.7 121.1h0M1572.2 119.6h0M1573.7 118h0M1575.1 116.5h0M1576.6 115h0M1578.1 113.5h0M1579.6 112h0M1581.1 110.5h0M1582.6 109h0M1584 107.5h0M1585.5 106.1h0M1587 104.6h0M1588.5 103.2h0M1590 101.7h0M1591.4 100.3h0M1592.9 98.9h0M1594.4 97.4h0M1595.9 96h0M1597.4 94.5h0M1598.8 93.1h0M1600.3 91.7h0M1601.8 90.3h0M1603.3 88.9h0M1604.8 87.5h0M1606.2 86.1h0M1607.7 84.8h0M1609.2 83.4h0M1610.7 82h0M1612.2 80.7h0M1613.7 79.3h0M1615.1 78h0M1616.6 76.6h0M1618.1 75.3h0M1619.6 74h0M1621.1 72.7h0M1622.5 71.3h0M1624 70h0M1625.5 68.7h0"/>
<path id="r-R1c" d="M1330.8 615.5h0M1332.3 607.3h0M1333.7 600.5h0M1335.2 594.4h0M1336.7 588.6h0M1338.2 583.1h0M1339.7 577.9h0M1341.1 572.9h0M1342.6 568.1h0M1344.1 563.4h0M1345.6 558.6h0M1347.1 553.9h0M1348.6 549.4h0M1350 544.9h0M1351.5 540.5h0M1353 536.1h0M1354.5 531.8h0M1356 527.5h0M1357.4 523.3h0M1358.9 519.2h0M1360.4 515.1h0M1361.9 511.1h0M1363.4 507.2h0M1364.8 503.4h0M1366.3 499.6h0M1367.8 495.9h0M1369.3 492.4h0M1370.8 488.9h0M1372.2 485.5h0M1373.7 482.2h0M1375.2 479.1h0M1376.7 475.9h0M1378.2 472.9h0M1379.7 469.9h0M1381.1 466.9h0M1382.6 463.9h0M1384.1 461h0M1385.6 458h0M1387.1 455.1h0M1388.5 452.2h0M1390 449.3h0M1391.5 446.4h0M1393 443.5h0M1394.5 440.6h0M1395.9 437.7h0M1397.4 434.9h0M1398.9 432h0M1400.4 429.1h0M1401.9 426.2h0M1403.3 423.4h0M1404.8 420.5h0M1406.3 417.6h0M1407.8 414.7h0M1409.3 411.9h0M1410.8 409h0M1412.2 406.1h0M1413.7 403.2h0M1415.2 400.4h0M1416.7 397.4h0M1418.2 394.5h0M1419.6 391.5h0M1421.1 388.5h0M1422.6 385.6h0M1424.1 382.6h0M1425.6 379.6h0M1427 376.7h0M1428.5 373.7h0M1430 370.7h0M1431.5 367.7h0M1433 364.7h0M1434.5 361.8h0M1435.9 358.8h0M1437.4 355.8h0M1438.9 352.8h0M1440.4 349.8h0M1441.9 346.8h0M1443.3 343.8h0M1444.8 340.8h0M1446.3 337.8h0M1447.8 334.8h0M1449.3 331.8h0M1450.7 328.8h0M1452.2 325.8h0M1453.7 322.8h0M1455.2 319.8h0M1456.7 316.8h0M1458.1 313.8h0M1459.6 310.8h0M1461.1 307.7h0M1462.6 304.7h0M1464.1 301.7h0M1465.6 298.7h0M1467 295.7h0M1468.5 292.6h0M1470 289.6h0M1471.5 286.6h0M1473 283.5h0M1474.4 280.5h0M1475.9 277.5h0M1477.4 274.4h0M1478.9 271.4h0M1480.4 268.5h0M1481.8 265.5h0M1483.3 262.6h0M1484.8 259.7h0M1486.3 256.8h0M1487.8 253.9h0M1489.2 251h0M1490.7 248.1h0M1492.2 245.2h0M1493.7 242.3h0M1495.2 239.4h0M1496.7 236.5h0M1498.1 233.7h0M1499.6 230.9h0M1501.1 227.8h0M1502.6 224.8h0M1504.1 221.8h0M1505.5 218.8h0M1507 215.8h0M1508.5 212.9h0M1510 210h0M1511.5 207.2h0M1512.9 204.4h0M1514.4 201.6h0M1515.9 198.9h0M1517.4 196.2h0M1518.9 193.6h0M1520.3 191h0M1521.8 188.5h0M1523.3 186.2h0M1524.8 183.9h0M1526.3 181.6h0M1527.8 179.3h0M1529.2 177.1h0M1530.7 174.9h0M1532.2 172.7h0M1533.7 170.5h0M1535.2 168.4h0M1536.6 166.3h0M1538.1 164.2h0M1539.6 162.2h0M1541.1 160.1h0M1542.6 158.1h0M1544 156.1h0M1545.5 154.1h0M1547 152.2h0M1548.5 150.3h0M1550 148.3h0M1551.5 146.4h0M1552.9 144.6h0M1554.4 142.8h0M1555.9 140.9h0M1557.4 139.1h0M1558.9 137.4h0M1560.3 135.6h0M1561.8 133.8h0M1563.3 132.1h0M1564.8 130.4h0M1566.3 128.7h0M1567.7 127h0M1569.2 125.3h0M1570.7 123.6h0M1572.2 122h0M1573.7 120.4h0M1575.1 118.7h0M1576.6 117.1h0M1578.1 115.5h0M1579.6 114h0M1581.1 112.4h0M1582.6 110.8h0M1584 109.3h0M1585.5 107.7h0M1587 106.2h0M1588.5 104.7h0M1590 103.2h0M1591.4 101.6h0M1592.9 100.1h0M1594.4 98.6h0M1595.9 97.1h0M1597.4 95.5h0M1598.8 94h0M1600.3 92.4h0M1601.8 91h0M1603.3 89.5h0M1604.8 88h0M1606.2 86.5h0M1607.7 85.1h0M1609.2 83.7h0M1610.7 82.3h0M1612.2 80.9h0M1613.7 79.5h0M1615.1 78.1h0M1616.6 76.7h0M1618.1 75.4h0M1619.6 74h0M1621.1 72.7h0M1622.5 71.4h0M1624 70h0M1625.5 68.7h0"/>
<path id="r-R1d" d="M1330.8 616.5h0M1332.3 608.8h0M1333.7 602.5h0M1335.2 596.6h0M1336.7 591.2h0M1338.2 586h0M1339.7 581h0M1341.1 576.3h0M1342.6 571.7h0M1344.1 567.2h0M1345.6 562.7h0M1347.1 558.2h0M1348.6 553.8h0M1350 549.4h0M1351.5 545.2h0M1353 541h0M1354.5 536.9h0M1356 532.8h0M1357.4 528.8h0M1358.9 524.8h0M1360.4 520.8h0M1361.9 516.9h0M1363.4 513.1h0M1364.8 509.3h0M1366.3 505.6h0M1367.8 502h0M1369.3 498.4h0M1370.8 494.9h0M1372.2 491.5h0M1373.7 488.1h0M1375.2 484.8h0M1376.7 481.6h0M1378.2 478.5h0M1379.7 475.4h0M1381.1 472.4h0M1382.6 469.4h0M1384.1 466.5h0M1385.6 463.6h0M1387.1 460.7h0M1388.5 457.8h0M1390 454.9h0M1391.5 452h0M1393 449.2h0M1394.5 446.3h0M1395.9 443.5h0M1397.4 440.7h0M1398.9 437.9h0M1400.4 435h0M1401.9 432.2h0M1403.3 429.4h0M1404.8 426.6h0M1406.3 423.8h0M1407.8 421h0M1409.3 418.2h0M1410.8 415.4h0M1412.2 412.6h0M1413.7 409.8h0M1415.2 407h0M1416.7 404.2h0M1418.2 401.3h0M1419.6 398.5h0M1421.1 395.6h0M1422.6 392.6h0M1424.1 389.7h0M1425.6 386.7h0M1427 383.8h0M1428.5 380.8h0M1430 377.9h0M1431.5 374.9h0M1433 372h0M1434.5 369h0M1435.9 366h0M1437.4 363.1h0M1438.9 360.1h0M1440.4 357.1h0M1441.9 354.2h0M1443.3 351.2h0M1444.8 348.2h0M1446.3 345.2h0M1447.8 342.2h0M1449.3 339.2h0M1450.7 336.2h0M1452.2 333.3h0M1453.7 330.3h0M1455.2 327.3h0M1456.7 324.3h0M1458.1 321.3h0M1459.6 318.3h0M1461.1 315.2h0M1462.6 312.2h0M1464.1 309.2h0M1465.6 306.2h0M1467 303.2h0M1468.5 300.2h0M1470 297.1h0M1471.5 294.1h0M1473 291.1h0M1474.4 288h0M1475.9 285h0M1477.4 282h0M1478.9 278.9h0M1480.4 275.9h0M1481.8 272.8h0M1483.3 269.9h0M1484.8 267.1h0M1486.3 264.4h0M1487.8 261.6h0M1489.2 258.9h0M1490.7 256.2h0M1492.2 253.5h0M1493.7 250.8h0M1495.2 248.1h0M1496.7 245.4h0M1498.1 242.7h0M1499.6 240.1h0M1501.1 237.4h0M1502.6 234.8h0M1504.1 232.1h0M1505.5 229.2h0M1507 226.1h0M1508.5 222.9h0M1510 219.8h0M1511.5 216.7h0M1512.9 213.6h0M1514.4 210.5h0M1515.9 207.5h0M1517.4 204.5h0M1518.9 201.6h0M1520.3 198.7h0M1521.8 195.8h0M1523.3 193.1h0M1524.8 190.4h0M1526.3 187.9h0M1527.8 185.6h0M1529.2 183.3h0M1530.7 181.1h0M1532.2 178.9h0M1533.7 176.7h0M1535.2 174.5h0M1536.6 172.3h0M1538.1 170.2h0M1539.6 168.1h0M1541.1 165.9h0M1542.6 163.9h0M1544 161.8h0M1545.5 159.7h0M1547 157.7h0M1548.5 155.7h0M1550 153.7h0M1551.5 151.7h0M1552.9 149.8h0M1554.4 147.9h0M1555.9 145.9h0M1557.4 144.1h0M1558.9 142.2h0M1560.3 140.3h0M1561.8 138.5h0M1563.3 136.7h0M1564.8 134.9h0M1566.3 133.1h0M1567.7 131.4h0M1569.2 129.6h0M1570.7 127.8h0M1572.2 126h0M1573.7 124.1h0M1575.1 122.3h0M1576.6 120.5h0M1578.1 118.8h0M1579.6 117h0M1581.1 115.3h0M1582.6 113.6h0M1584 111.9h0M1585.5 110.2h0M1587 108.5h0M1588.5 106.9h0M1590 105.2h0M1591.4 103.6h0M1592.9 101.9h0M1594.4 100.3h0M1595.9 98.6h0M1597.4 96.9h0M1598.8 95.2h0M1600.3 93.5h0M1601.8 91.9h0M1603.3 90.3h0M1604.8 88.7h0M1606.2 87.1h0M1607.7 85.6h0M1609.2 84.1h0M1610.7 82.6h0M1612.2 81.1h0M1613.7 79.7h0M1615.1 78.3h0M1616.6 76.9h0M1618.1 75.4h0M1619.6 74.1h0M1621.1 72.7h0M1622.5 71.4h0M1624 70h0M1625.5 68.7h0"/>
<path id="r-R2" d="M1330.8 617.5h0M1332.3 610.4h0M1333.7 604.4h0M1335.2 598.9h0M1336.7 593.6h0M1338.2 588.7h0M1339.7 583.9h0M1341.1 579.4h0M1342.6 575h0M1344.1 570.7h0M1345.6 566.3h0M1347.1 562h0M1348.6 557.7h0M1350 553.6h0M1351.5 549.5h0M1353 545.5h0M1354.5 541.5h0M1356 537.6h0M1357.4 533.7h0M1358.9 529.9h0M1360.4 526.1h0M1361.9 522.3h0M1363.4 518.6h0M1364.8 514.9h0M1366.3 511.3h0M1367.8 507.7h0M1369.3 504.2h0M1370.8 500.7h0M1372.2 497.3h0M1373.7 493.9h0M1375.2 490.6h0M1376.7 487.3h0M1378.2 484.1h0M1379.7 481h0M1381.1 477.9h0M1382.6 474.9h0M1384.1 472h0M1385.6 469h0M1387.1 466.1h0M1388.5 463.2h0M1390 460.4h0M1391.5 457.5h0M1393 454.7h0M1394.5 451.9h0M1395.9 449.1h0M1397.4 446.3h0M1398.9 443.5h0M1400.4 440.7h0M1401.9 438h0M1403.3 435.2h0M1404.8 432.5h0M1406.3 429.7h0M1407.8 427h0M1409.3 424.2h0M1410.8 421.5h0M1412.2 418.8h0M1413.7 416h0M1415.2 413.3h0M1416.7 410.5h0M1418.2 407.8h0M1419.6 405.1h0M1421.1 402.3h0M1422.6 399.5h0M1424.1 396.7h0M1425.6 393.8h0M1427 390.9h0M1428.5 388.1h0M1430 385.2h0M1431.5 382.3h0M1433 379.4h0M1434.5 376.6h0M1435.9 373.7h0M1437.4 370.8h0M1438.9 367.9h0M1440.4 365h0M1441.9 362.1h0M1443.3 359.2h0M1444.8 356.3h0M1446.3 353.4h0M1447.8 350.5h0M1449.3 347.6h0M1450.7 344.7h0M1452.2 341.8h0M1453.7 338.8h0M1455.2 335.9h0M1456.7 332.9h0M1458.1 329.9h0M1459.6 326.8h0M1461.1 323.8h0M1462.6 320.7h0M1464.1 317.7h0M1465.6 314.6h0M1467 311.5h0M1468.5 308.5h0M1470 305.4h0M1471.5 302.3h0M1473 299.2h0M1474.4 296.1h0M1475.9 293h0M1477.4 289.9h0M1478.9 286.8h0M1480.4 283.7h0M1481.8 280.6h0M1483.3 277.5h0M1484.8 274.3h0M1486.3 271.4h0M1487.8 268.7h0M1489.2 266h0M1490.7 263.5h0M1492.2 261.1h0M1493.7 258.6h0M1495.2 256.2h0M1496.7 253.7h0M1498.1 251.3h0M1499.6 248.9h0M1501.1 246.4h0M1502.6 244h0M1504.1 241.6h0M1505.5 239.2h0M1507 236.8h0M1508.5 234.4h0M1510 232h0M1511.5 229.6h0M1512.9 227.3h0M1514.4 225h0M1515.9 222.7h0M1517.4 220.4h0M1518.9 218.1h0M1520.3 215.9h0M1521.8 213.6h0M1523.3 211.4h0M1524.8 209.2h0M1526.3 206.9h0M1527.8 204.7h0M1529.2 202.5h0M1530.7 200.3h0M1532.2 198.2h0M1533.7 196h0M1535.2 193.9h0M1536.6 191.7h0M1538.1 189.6h0M1539.6 187.5h0M1541.1 185.4h0M1542.6 183.3h0M1544 181.3h0M1545.5 179.2h0M1547 177.2h0M1548.5 175.1h0M1550 173.1h0M1551.5 171h0M1552.9 169h0M1554.4 167h0M1555.9 165h0M1557.4 163h0M1558.9 160.9h0M1560.3 158.9h0M1561.8 156.9h0M1563.3 154.9h0M1564.8 152.9h0M1566.3 151h0M1567.7 149h0M1569.2 147h0M1570.7 144.8h0M1572.2 142.6h0M1573.7 140.3h0M1575.1 137.9h0M1576.6 135.5h0M1578.1 133.1h0M1579.6 130.8h0M1581.1 128.4h0M1582.6 125.9h0M1584 123.5h0M1585.5 121.1h0M1587 118.8h0M1588.5 116.5h0M1590 114.2h0M1591.4 112h0M1592.9 109.8h0M1594.4 107.7h0M1595.9 105.6h0M1597.4 103.4h0M1598.8 101.2h0M1600.3 99h0M1601.8 96.6h0M1603.3 94.1h0M1604.8 91.8h0M1606.2 89.7h0M1607.7 87.6h0M1609.2 85.7h0M1610.7 83.9h0M1612.2 82.1h0M1613.7 80.4h0M1615.1 78.8h0M1616.6 77.3h0M1618.1 75.7h0M1619.6 74.2h0M1621.1 72.8h0M1622.5 71.5h0M1624 70.1h0M1625.5 68.7h0"/>
<path id="r-R2b" d="M1330.8 618.5h0M1332.3 611.9h0M1333.7 606.3h0M1335.2 601h0M1336.7 596h0M1338.2 591.2h0M1339.7 586.7h0M1341.1 582.3h0M1342.6 578h0M1344.1 573.9h0M1345.6 569.6h0M1347.1 565.5h0M1348.6 561.4h0M1350 557.4h0M1351.5 553.4h0M1353 549.5h0M1354.5 545.7h0M1356 541.9h0M1357.4 538.2h0M1358.9 534.5h0M1360.4 530.9h0M1361.9 527.2h0M1363.4 523.6h0M1364.8 520.1h0M1366.3 516.6h0M1367.8 513.1h0M1369.3 509.6h0M1370.8 506.2h0M1372.2 502.8h0M1373.7 499.5h0M1375.2 496.2h0M1376.7 493h0M1378.2 489.8h0M1379.7 486.6h0M1381.1 483.5h0M1382.6 480.4h0M1384.1 477.4h0M1385.6 474.5h0M1387.1 471.5h0M1388.5 468.6h0M1390 465.7h0M1391.5 462.9h0M1393 460.1h0M1394.5 457.3h0M1395.9 454.5h0M1397.4 451.7h0M1398.9 449h0M1400.4 446.2h0M1401.9 443.5h0M1403.3 440.8h0M1404.8 438.1h0M1406.3 435.4h0M1407.8 432.7h0M1409.3 430h0M1410.8 427.3h0M1412.2 424.7h0M1413.7 422h0M1415.2 419.3h0M1416.7 416.6h0M1418.2 413.9h0M1419.6 411.2h0M1421.1 408.6h0M1422.6 405.9h0M1424.1 403.2h0M1425.6 400.5h0M1427 397.6h0M1428.5 394.7h0M1430 391.8h0M1431.5 388.8h0M1433 385.9h0M1434.5 382.9h0M1435.9 380h0M1437.4 377h0M1438.9 374h0M1440.4 371.1h0M1441.9 368.1h0M1443.3 365.1h0M1444.8 362.1h0M1446.3 359.1h0M1447.8 356.1h0M1449.3 353.1h0M1450.7 350h0M1452.2 347h0M1453.7 344h0M1455.2 340.9h0M1456.7 337.9h0M1458.1 334.8h0M1459.6 331.6h0M1461.1 328.5h0M1462.6 325.3h0M1464.1 322.1h0M1465.6 318.9h0M1467 315.7h0M1468.5 312.4h0M1470 309.2h0M1471.5 306h0M1473 302.7h0M1474.4 299.4h0M1475.9 296.2h0M1477.4 292.9h0M1478.9 289.6h0M1480.4 286.3h0M1481.8 283h0M1483.3 279.6h0M1484.8 276.3h0M1486.3 272.9h0M1487.8 270.1h0M1489.2 267.3h0M1490.7 264.7h0M1492.2 262.2h0M1493.7 259.7h0M1495.2 257.2h0M1496.7 254.7h0M1498.1 252.3h0M1499.6 249.8h0M1501.1 247.3h0M1502.6 244.9h0M1504.1 242.4h0M1505.5 240h0M1507 237.5h0M1508.5 235.1h0M1510 232.7h0M1511.5 230.3h0M1512.9 227.9h0M1514.4 225.6h0M1515.9 223.3h0M1517.4 221h0M1518.9 218.7h0M1520.3 216.5h0M1521.8 214.2h0M1523.3 212h0M1524.8 209.8h0M1526.3 207.5h0M1527.8 205.3h0M1529.2 203.1h0M1530.7 200.9h0M1532.2 198.8h0M1533.7 196.6h0M1535.2 194.4h0M1536.6 192.3h0M1538.1 190.2h0M1539.6 188h0M1541.1 186h0M1542.6 183.9h0M1544 181.8h0M1545.5 179.8h0M1547 177.7h0M1548.5 175.7h0M1550 173.6h0M1551.5 171.6h0M1552.9 169.5h0M1554.4 167.5h0M1555.9 165.5h0M1557.4 163.5h0M1558.9 161.5h0M1560.3 159.4h0M1561.8 157.4h0M1563.3 155.4h0M1564.8 153.4h0M1566.3 151.4h0M1567.7 149.4h0M1569.2 147.4h0M1570.7 145.3h0M1572.2 143.1h0M1573.7 140.8h0M1575.1 138.4h0M1576.6 136h0M1578.1 133.6h0M1579.6 131.2h0M1581.1 128.9h0M1582.6 126.4h0M1584 123.9h0M1585.5 121.5h0M1587 119.2h0M1588.5 116.8h0M1590 114.6h0M1591.4 112.3h0M1592.9 110.1h0M1594.4 108h0M1595.9 105.8h0M1597.4 103.7h0M1598.8 101.5h0M1600.3 99.3h0M1601.8 96.8h0M1603.3 94.3h0M1604.8 91.9h0M1606.2 89.8h0M1607.7 87.7h0M1609.2 85.8h0M1610.7 84h0M1612.2 82.2h0M1613.7 80.4h0M1615.1 78.9h0M1616.6 77.3h0M1618.1 75.7h0M1619.6 74.2h0M1621.1 72.9h0M1622.5 71.5h0M1624 70.1h0M1625.5 68.7h0"/>
<path id="r-R3a" d="M1330.8 619.6h0M1332.3 613.6h0M1333.7 608.2h0M1335.2 603.2h0M1336.7 598.4h0M1338.2 593.8h0M1339.7 589.4h0M1341.1 585.1h0M1342.6 581h0M1344.1 576.9h0M1345.6 572.8h0M1347.1 568.9h0M1348.6 564.9h0M1350 561.1h0M1351.5 557.3h0M1353 553.5h0M1354.5 549.9h0M1356 546.2h0M1357.4 542.6h0M1358.9 539.1h0M1360.4 535.6h0M1361.9 532.1h0M1363.4 528.6h0M1364.8 525.2h0M1366.3 521.8h0M1367.8 518.4h0M1369.3 515.1h0M1370.8 511.8h0M1372.2 508.5h0M1373.7 505.2h0M1375.2 502h0M1376.7 498.8h0M1378.2 495.6h0M1379.7 492.5h0M1381.1 489.4h0M1382.6 486.3h0M1384.1 483.3h0M1385.6 480.3h0M1387.1 477.3h0M1388.5 474.4h0M1390 471.5h0M1391.5 468.6h0M1393 465.7h0M1394.5 462.9h0M1395.9 460.1h0M1397.4 457.4h0M1398.9 454.6h0M1400.4 451.9h0M1401.9 449.2h0M1403.3 446.5h0M1404.8 443.9h0M1406.3 441.2h0M1407.8 438.6h0M1409.3 436h0M1410.8 433.3h0M1412.2 430.7h0M1413.7 428.1h0M1415.2 425.5h0M1416.7 422.8h0M1418.2 420.2h0M1419.6 417.6h0M1421.1 415h0M1422.6 412.4h0M1424.1 409.7h0M1425.6 407.1h0M1427 404.5h0M1428.5 401.9h0M1430 399.2h0M1431.5 396.5h0M1433 393.8h0M1434.5 391.1h0M1435.9 388.4h0M1437.4 385.7h0M1438.9 383h0M1440.4 380.2h0M1441.9 377.5h0M1443.3 374.8h0M1444.8 372.1h0M1446.3 369.3h0M1447.8 366.6h0M1449.3 363.9h0M1450.7 361.1h0M1452.2 358.4h0M1453.7 355.7h0M1455.2 352.9h0M1456.7 350.2h0M1458.1 347.4h0M1459.6 344.7h0M1461.1 342h0M1462.6 339.2h0M1464.1 336.6h0M1465.6 334h0M1467 331.5h0M1468.5 329h0M1470 326.5h0M1471.5 324.1h0M1473 321.6h0M1474.4 319.2h0M1475.9 316.7h0M1477.4 314.3h0M1478.9 311.8h0M1480.4 309.4h0M1481.8 306.9h0M1483.3 304.5h0M1484.8 302h0M1486.3 299.6h0M1487.8 297.2h0M1489.2 294.7h0M1490.7 292.3h0M1492.2 289.9h0M1493.7 287.4h0M1495.2 285h0M1496.7 282.6h0M1498.1 280.1h0M1499.6 277.7h0M1501.1 275.3h0M1502.6 272.9h0M1504.1 270.3h0M1505.5 267.8h0M1507 265.2h0M1508.5 262.5h0M1510 259.8h0M1511.5 257.1h0M1512.9 254.4h0M1514.4 251.7h0M1515.9 249h0M1517.4 246.3h0M1518.9 243.6h0M1520.3 240.9h0M1521.8 238.2h0M1523.3 235.5h0M1524.8 232.8h0M1526.3 230.2h0M1527.8 227.7h0M1529.2 225.2h0M1530.7 222.8h0M1532.2 220.3h0M1533.7 217.9h0M1535.2 215.4h0M1536.6 213h0M1538.1 210.5h0M1539.6 208.1h0M1541.1 205.7h0M1542.6 203.3h0M1544 200.8h0M1545.5 198.4h0M1547 196h0M1548.5 193.6h0M1550 191.2h0M1551.5 188.8h0M1552.9 186.4h0M1554.4 184h0M1555.9 181.7h0M1557.4 179.3h0M1558.9 176.9h0M1560.3 174.5h0M1561.8 172.2h0M1563.3 169.8h0M1564.8 167.4h0M1566.3 165.1h0M1567.7 162.7h0M1569.2 160.3h0M1570.7 158h0M1572.2 155.6h0M1573.7 153.3h0M1575.1 150.9h0M1576.6 148.5h0M1578.1 146.2h0M1579.6 143.7h0M1581.1 141.3h0M1582.6 138.9h0M1584 136.4h0M1585.5 133.9h0M1587 131.5h0M1588.5 129h0M1590 126.5h0M1591.4 123.9h0M1592.9 121.4h0M1594.4 118.8h0M1595.9 116.3h0M1597.4 113.8h0M1598.8 111.3h0M1600.3 108.9h0M1601.8 106.4h0M1603.3 103.8h0M1604.8 100.9h0M1606.2 97.5h0M1607.7 92.4h0M1609.2 89.2h0M1610.7 86.2h0M1612.2 83.9h0M1613.7 81.6h0M1615.1 79.6h0M1616.6 77.9h0M1618.1 76.1h0M1619.6 74.4h0M1621.1 73h0M1622.5 71.6h0M1624 70.1h0M1625.5 68.7h0"/>
</g>
<path d="M972.0 39.6V651" stroke="#231f20" stroke-width="3.9" fill="none"/>
<path d="M970.05 649H1299.4M1313.0 649H1641.9" stroke="#231f20" stroke-width="4" fill="none"/>
<path d="M963.4 627.6H972.0M963.4 487.9H972.0M963.4 348.2H972.0M963.4 208.6H972.0M963.4 68.9H972.0M986.3 649V658M1060.3 649V658M1134.3 649V658M1208.3 649V658M1282.3 649V658M1329.3 649V658M1403.3 649V658M1477.4 649V658M1551.5 649V658M1625.5 649V658" stroke="#231f20" stroke-width="4" fill="none"/>
<text transform="translate(955.7 639.4) scale(0.94 1)" text-anchor="end" class="t">0.00</text>
<text transform="translate(955.7 499.7) scale(0.94 1)" text-anchor="end" class="t">0.25</text>
<text transform="translate(955.7 360.1) scale(0.94 1)" text-anchor="end" class="t">0.50</text>
<text transform="translate(955.7 220.4) scale(0.94 1)" text-anchor="end" class="t">0.75</text>
<text transform="translate(955.7 80.7) scale(0.94 1)" text-anchor="end" class="t">1.00</text>
<text transform="translate(986.3 688.0) scale(0.94 1)" text-anchor="middle" class="t">0</text>
<text transform="translate(1060.3 688.0) scale(0.94 1)" text-anchor="middle" class="t">50</text>
<text transform="translate(1134.3 688.0) scale(0.94 1)" text-anchor="middle" class="t">100</text>
<text transform="translate(1208.3 688.0) scale(0.94 1)" text-anchor="middle" class="t">150</text>
<text transform="translate(1282.3 688.0) scale(0.94 1)" text-anchor="middle" class="t">200</text>
<text transform="translate(1329.3 688.0) scale(0.94 1)" text-anchor="middle" class="t">0</text>
<text transform="translate(1403.3 688.0) scale(0.94 1)" text-anchor="middle" class="t">50</text>
<text transform="translate(1477.4 688.0) scale(0.94 1)" text-anchor="middle" class="t">100</text>
<text transform="translate(1551.5 688.0) scale(0.94 1)" text-anchor="middle" class="t">150</text>
<text transform="translate(1625.5 688.0) scale(0.94 1)" text-anchor="middle" class="t">200</text>
<text transform="translate(1133.3 30) scale(1 1)" text-anchor="middle" class="s">exposed uninfected</text>
<text transform="translate(1476.8 30) scale(1 1)" text-anchor="middle" class="s">unexposed</text>
<text transform="translate(875.9 346.4) rotate(-90) scale(0.986 1)" text-anchor="middle" class="yl">Cumulative clonal frequency</text>
<text transform="translate(1305.7 741.5) scale(0.98 1)" text-anchor="middle" class="xl">Rank</text>
<text x="836" y="35.5" class="pl">b</text>
</g>
</svg>
</body>
</html>
